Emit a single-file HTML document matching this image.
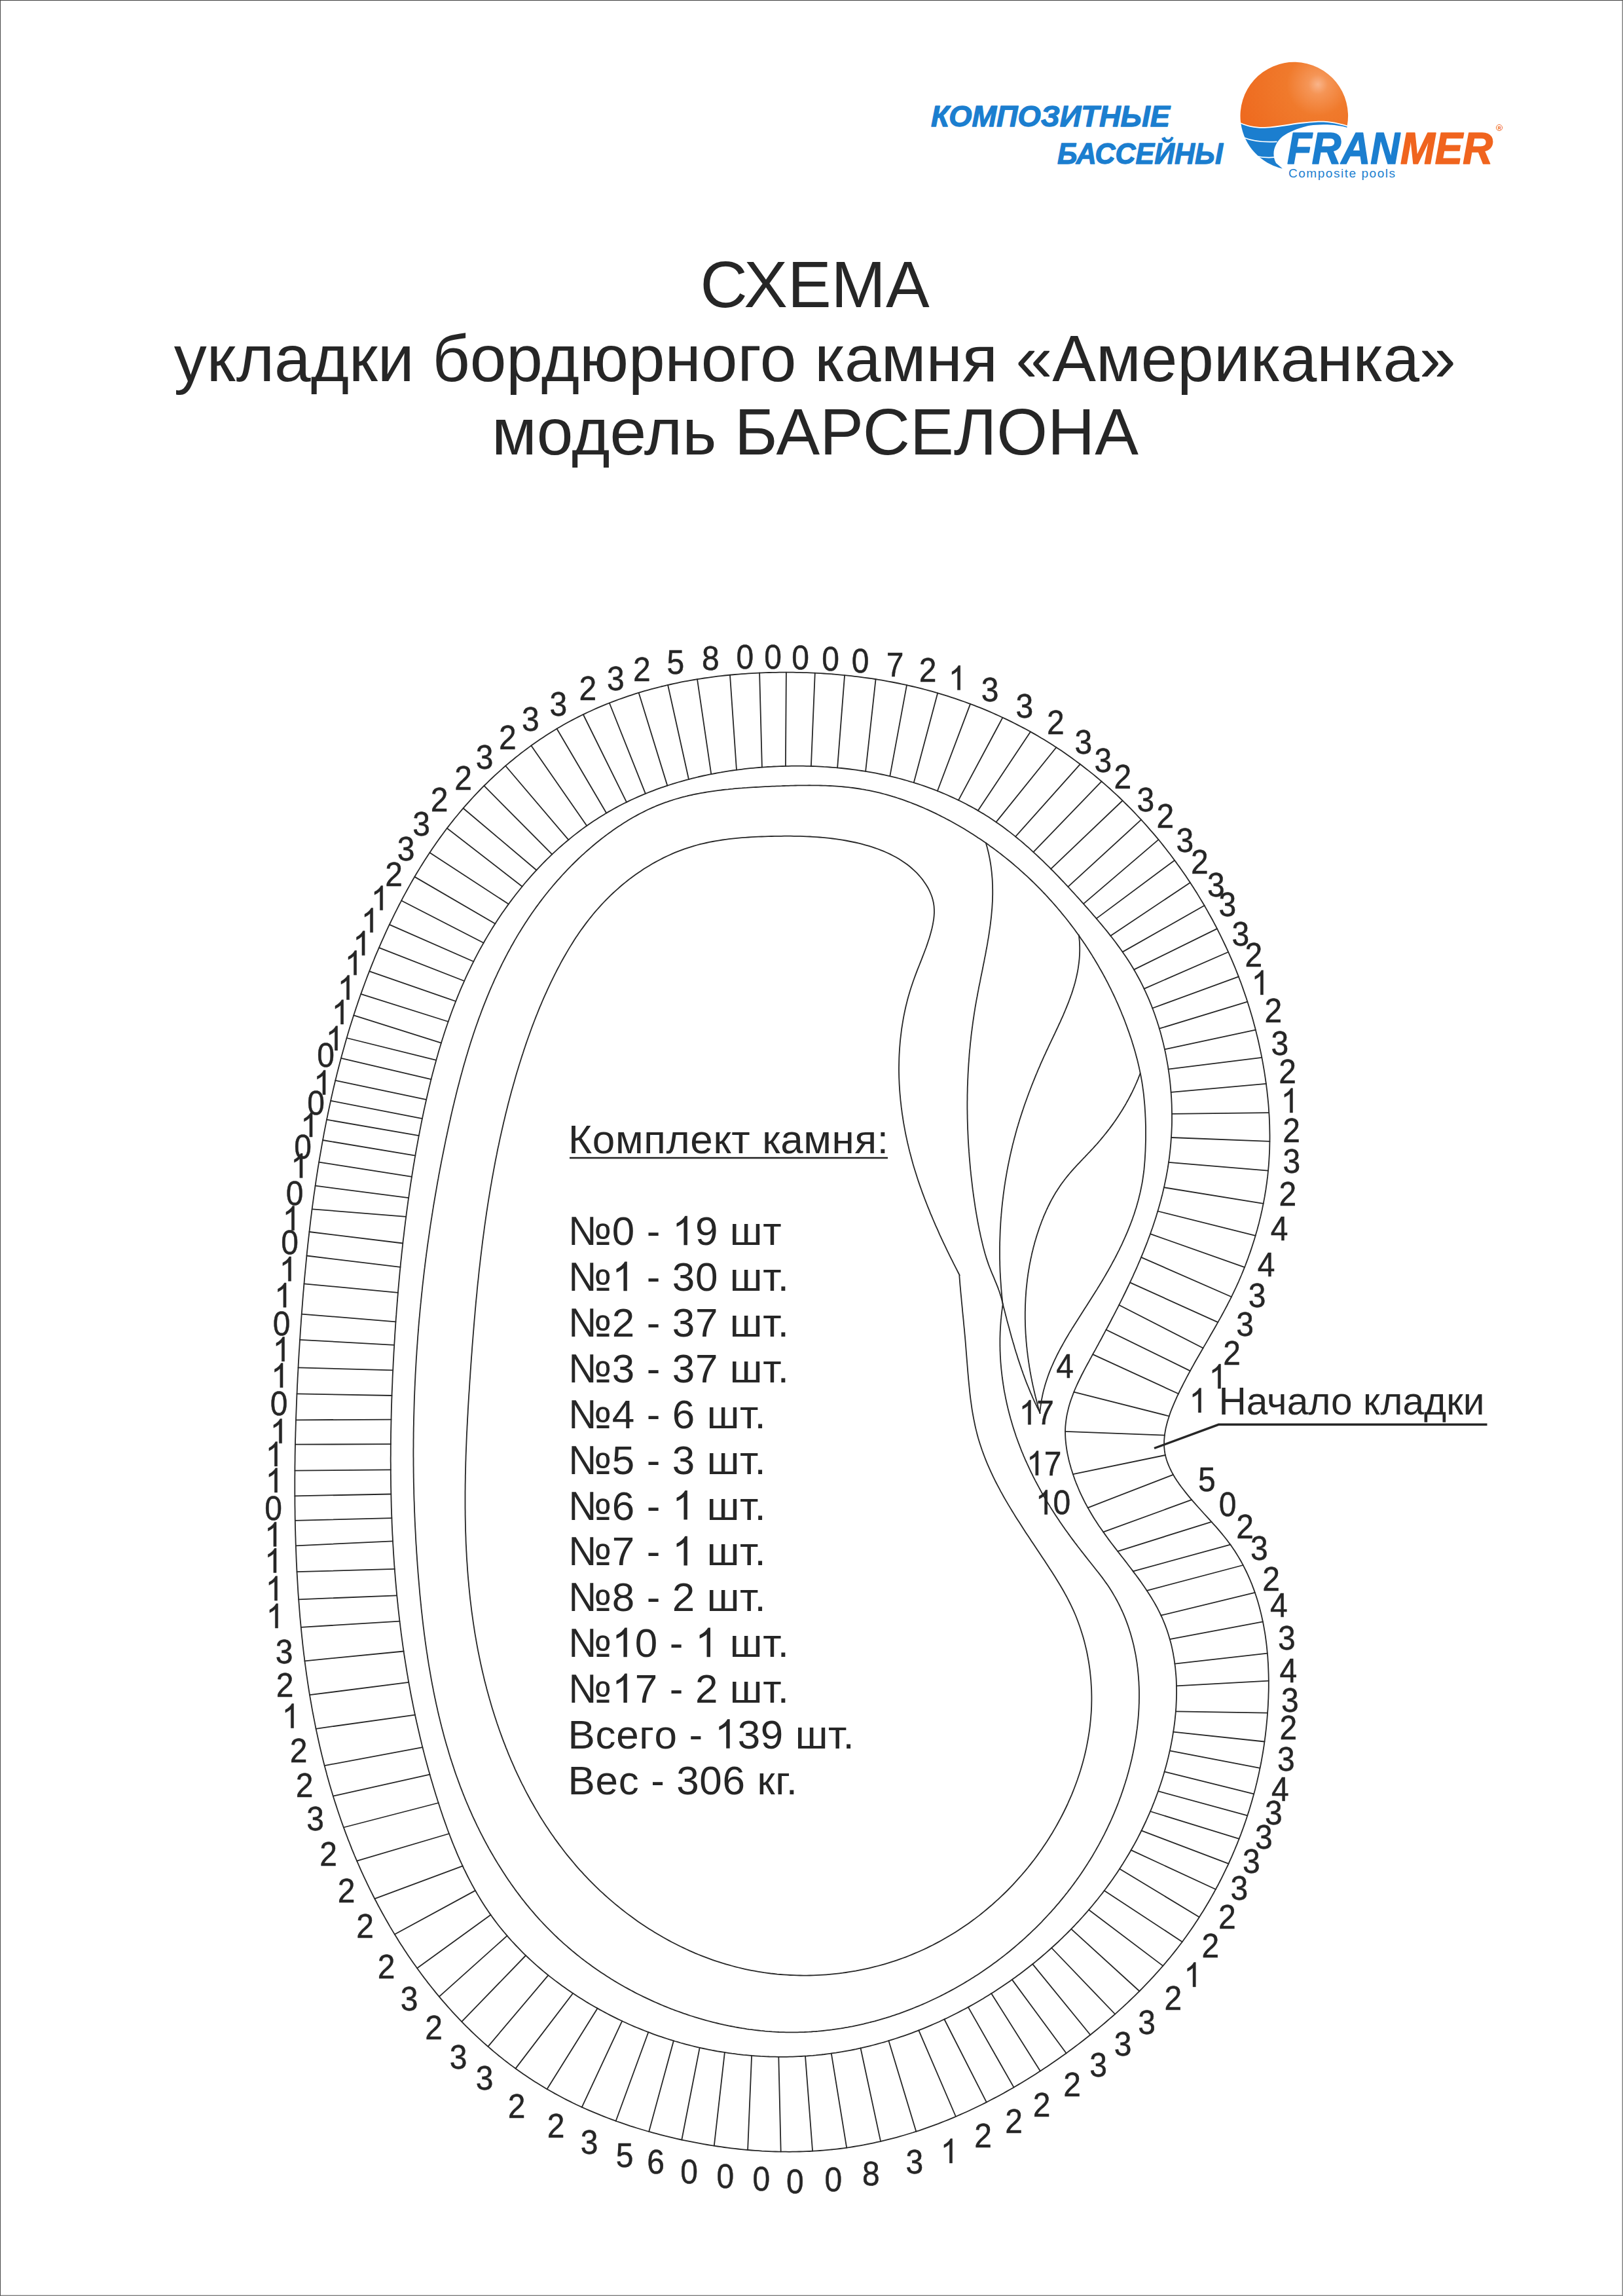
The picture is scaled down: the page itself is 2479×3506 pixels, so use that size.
<!DOCTYPE html>
<html lang="ru">
<head>
<meta charset="utf-8">
<title>Схема укладки бордюрного камня «Американка» — модель БАРСЕЛОНА</title>
<style>
html,body{margin:0;padding:0;background:#fff;}
body{width:2479px;height:3506px;overflow:hidden;font-family:"Liberation Sans",sans-serif;}
#page{position:relative;width:2479px;height:3506px;background:#fff;overflow:hidden;}
#page svg{position:absolute;left:0;top:0;}
#frame{position:absolute;left:0;top:0;width:2477px;height:3504px;border-top:1px solid #3f3f3f;border-left:1px solid #4a4a4a;border-right:1px solid #7d7d7d;border-bottom:1px solid #7d7d7d;box-shadow:inset -1px -1px 0 #cfcfcf;}
text{font-family:"Liberation Sans",sans-serif;}
</style>
</head>
<body>
<div id="page">
<svg width="2479" height="3506" viewBox="0 0 2479 3506">
<defs>
<radialGradient id="sun" gradientUnits="userSpaceOnUse" cx="2013" cy="129" r="125">
<stop offset="0" stop-color="#f9b48a"/>
<stop offset="0.12" stop-color="#f59556"/>
<stop offset="0.38" stop-color="#f07a2c"/>
<stop offset="1" stop-color="#ee6a1f"/>
</radialGradient>
</defs>

<!-- ======== logo ======== -->
<g id="logo">
<g font-weight="700" font-style="italic" fill="#1b7ecf" stroke="#1b7ecf" stroke-width="1.3" stroke-linejoin="round">
<text x="1422" y="193" font-size="44.5" textLength="365" lengthAdjust="spacingAndGlyphs">КОМПОЗИТНЫЕ</text>
<text x="1615" y="250" font-size="44.5" textLength="253" lengthAdjust="spacingAndGlyphs">БАССЕЙНЫ</text>
</g>
<path d="M1895.1 187.2 C1905 191.5 1918 194.5 1931.8 194 C1955 193 1970 188.5 1990.9 186.6 C2005 185 2015 184.5 2021.7 184.7 C2035 185.5 2047 188 2057.8 191.5 A82.3 82.3 0 1 0 1895.1 187.2 Z" fill="url(#sun)"/>
<path d="M1895.4 189 C1905 193.3 1918 196.3 1931.8 195.8 C1955 194.8 1970 190.3 1990.9 188.4 C2005 186.8 2015 186.3 2021.7 186.5 C2035 187.3 2047 189.8 2057.6 193.3 L2057.4 194.8 C2045 191.2 2032 190.2 2021.7 190.2 C2005 190.4 1996 192.2 1990.9 194 C1975 198.5 1964 204.5 1958.9 208.5 C1947.5 218 1941 234 1949 249 L1958.9 257.4 A82.3 82.3 0 0 1 1895.4 189 Z" fill="#1b7ecf"/>
<path d="M1899.5 210 C1913 215.5 1930 217.5 1950.5 216.3" fill="none" stroke="#fff" stroke-width="1.7"/>
<path d="M1917 238 C1927 240.5 1936 241.2 1946.5 240.2" fill="none" stroke="#fff" stroke-width="1.7"/>
<g font-weight="700" font-style="italic" font-size="69" stroke-width="1.6" stroke-linejoin="round">
<text x="1966" y="250" fill="#1b7ecf" stroke="#1b7ecf" textLength="172" lengthAdjust="spacingAndGlyphs">FRAN</text>
<text x="2139" y="250" fill="#f0641e" stroke="#f0641e" textLength="141" lengthAdjust="spacingAndGlyphs">MER</text>
</g>
<text x="1968" y="270.6" font-size="19" fill="#1b7ecf" textLength="163" lengthAdjust="spacing">Composite pools</text>
<circle cx="2290" cy="195" r="4.6" fill="none" stroke="#f0641e" stroke-width="0.9"/>
<text x="2287.7" y="197.6" font-size="7" font-weight="700" fill="#f0641e">R</text>
</g>

<!-- ======== title ======== -->
<g font-size="100" fill="#262626" text-anchor="middle">
<text x="1244.6" y="468.8">СХЕМА</text>
<text x="1244.8" y="581.6">укладки бордюрного камня «Американка»</text>
<text x="1245" y="693.8">модель БАРСЕЛОНА</text>
</g>

<!-- ======== diagram ======== -->
<g id="ring" fill="none" stroke="#262626" stroke-width="1.8" stroke-linejoin="round" stroke-linecap="round">
<path d="M1200.9 1026.7 L1206.2 1026.7 L1211.4 1026.7 L1216.6 1026.8 L1221.9 1026.9 L1227.1 1027.1 L1232.4 1027.2 L1237.6 1027.4 L1242.9 1027.6 L1248.1 1027.9 L1253.3 1028.2 L1258.6 1028.5 L1263.8 1028.9 L1269.0 1029.2 L1274.3 1029.6 L1279.5 1030.1 L1284.7 1030.6 L1289.9 1031.1 L1295.1 1031.6 L1300.3 1032.2 L1305.5 1032.8 L1310.7 1033.4 L1315.9 1034.1 L1321.1 1034.8 L1326.3 1035.5 L1331.5 1036.2 L1336.6 1037.0 L1341.8 1037.9 L1346.9 1038.7 L1352.1 1039.6 L1357.2 1040.6 L1362.3 1041.5 L1367.5 1042.5 L1372.6 1043.5 L1377.7 1044.6 L1382.8 1045.7 L1387.9 1046.8 L1393.0 1048.0 L1398.0 1049.2 L1403.1 1050.4 L1408.1 1051.7 L1413.2 1053.0 L1418.2 1054.4 L1423.2 1055.7 L1428.2 1057.2 L1433.2 1058.6 L1438.2 1060.1 L1443.2 1061.6 L1448.1 1063.2 L1453.1 1064.8 L1458.0 1066.4 L1463.0 1068.1 L1467.9 1069.8 L1472.8 1071.5 L1477.7 1073.3 L1482.5 1075.1 L1487.4 1076.9 L1492.2 1078.8 L1497.0 1080.7 L1501.9 1082.7 L1506.7 1084.7 L1511.4 1086.7 L1516.2 1088.8 L1520.9 1090.9 L1525.7 1093.0 L1530.4 1095.2 L1535.1 1097.4 L1539.8 1099.6 L1544.4 1101.9 L1549.1 1104.2 L1553.7 1106.6 L1558.3 1109.0 L1562.9 1111.4 L1567.5 1113.8 L1572.0 1116.3 L1576.6 1118.9 L1581.1 1121.4 L1585.6 1124.0 L1590.0 1126.7 L1594.5 1129.3 L1598.9 1132.0 L1603.3 1134.8 L1607.7 1137.6 L1612.1 1140.4 L1616.4 1143.2 L1620.8 1146.1 L1625.1 1149.0 L1629.3 1152.0 L1633.6 1155.0 L1637.8 1158.0 L1642.0 1161.1 L1646.2 1164.2 L1650.4 1167.3 L1654.5 1170.5 L1658.6 1173.7 L1662.7 1176.9 L1666.8 1180.1 L1670.9 1183.4 L1674.9 1186.8 L1678.9 1190.1 L1682.8 1193.5 L1686.8 1196.9 L1690.7 1200.4 L1694.6 1203.8 L1698.5 1207.3 L1702.3 1210.9 L1706.2 1214.4 L1710.0 1218.0 L1713.7 1221.7 L1717.5 1225.3 L1721.2 1229.0 L1724.9 1232.7 L1728.6 1236.4 L1732.2 1240.2 L1735.8 1244.0 L1739.4 1247.8 L1743.0 1251.6 L1746.5 1255.5 L1750.0 1259.4 L1753.5 1263.3 L1756.9 1267.3 L1760.3 1271.2 L1763.7 1275.2 L1767.1 1279.2 L1770.5 1283.3 L1773.8 1287.3 L1777.0 1291.4 L1780.3 1295.5 L1783.5 1299.7 L1786.7 1303.8 L1789.9 1308.0 L1793.0 1312.2 L1796.1 1316.4 L1799.2 1320.7 L1802.3 1324.9 L1805.3 1329.2 L1808.3 1333.5 L1811.3 1337.8 L1814.2 1342.2 L1817.1 1346.5 L1820.0 1350.9 L1822.8 1355.3 L1825.6 1359.7 L1828.4 1364.1 L1831.1 1368.6 L1833.8 1373.1 L1836.5 1377.5 L1839.2 1382.0 L1841.8 1386.6 L1844.4 1391.1 L1846.9 1395.7 L1849.5 1400.2 L1852.0 1404.8 L1854.4 1409.4 L1856.9 1414.0 L1859.3 1418.6 L1861.6 1423.3 L1863.9 1427.9 L1866.2 1432.6 L1868.5 1437.3 L1870.7 1442.0 L1872.9 1446.7 L1875.1 1451.4 L1877.2 1456.1 L1879.3 1460.9 L1881.4 1465.6 L1883.4 1470.4 L1885.4 1475.2 L1887.4 1480.0 L1889.3 1484.8 L1891.2 1489.7 L1893.0 1494.5 L1894.9 1499.3 L1896.7 1504.2 L1898.4 1509.1 L1900.1 1514.0 L1901.8 1518.9 L1903.5 1523.8 L1905.1 1528.7 L1906.7 1533.7 L1908.2 1538.6 L1909.7 1543.6 L1911.2 1548.5 L1912.7 1553.5 L1914.1 1558.5 L1915.4 1563.5 L1916.8 1568.5 L1918.1 1573.6 L1919.3 1578.6 L1920.6 1583.7 L1921.8 1588.7 L1922.9 1593.8 L1924.0 1598.9 L1925.1 1604.0 L1926.2 1609.1 L1927.2 1614.2 L1928.2 1619.3 L1929.1 1624.4 L1930.0 1629.6 L1930.9 1634.7 L1931.7 1639.9 L1932.5 1645.1 L1933.2 1650.2 L1934.0 1655.4 L1934.6 1660.6 L1935.3 1665.8 L1935.8 1671.0 L1936.4 1676.2 L1936.9 1681.4 L1937.4 1686.6 L1937.8 1691.8 L1938.1 1697.1 L1938.5 1702.3 L1938.8 1707.5 L1939.0 1712.7 L1939.2 1718.0 L1939.3 1723.2 L1939.4 1728.4 L1939.5 1733.6 L1939.5 1738.9 L1939.4 1744.1 L1939.3 1749.3 L1939.2 1754.5 L1939.0 1759.8 L1938.7 1765.0 L1938.4 1770.2 L1938.1 1775.4 L1937.7 1780.6 L1937.2 1785.8 L1936.7 1791.0 L1936.2 1796.2 L1935.5 1801.4 L1934.9 1806.5 L1934.1 1811.7 L1933.4 1816.9 L1932.5 1822.0 L1931.7 1827.2 L1930.7 1832.3 L1929.8 1837.4 L1928.7 1842.5 L1927.7 1847.6 L1926.5 1852.7 L1925.4 1857.8 L1924.1 1862.9 L1922.9 1867.9 L1921.5 1873.0 L1920.2 1878.0 L1918.7 1883.0 L1917.3 1888.0 L1915.8 1893.0 L1914.2 1898.0 L1912.6 1903.0 L1911.0 1907.9 L1909.3 1912.9 L1907.5 1917.8 L1905.8 1922.7 L1903.9 1927.6 L1902.1 1932.5 L1900.1 1937.3 L1898.2 1942.1 L1896.2 1947.0 L1894.1 1951.8 L1892.1 1956.5 L1889.9 1961.3 L1887.8 1966.0 L1885.6 1970.7 L1883.3 1975.4 L1881.0 1980.1 L1878.7 1984.8 L1876.3 1989.4 L1874.0 1994.0 L1871.5 1998.6 L1869.1 2003.2 L1866.6 2007.8 L1864.1 2012.4 L1861.5 2016.9 L1859.0 2021.4 L1856.4 2026.0 L1853.8 2030.5 L1851.2 2035.0 L1848.6 2039.5 L1846.0 2044.1 L1843.4 2048.6 L1840.8 2053.1 L1838.1 2057.6 L1835.5 2062.2 L1832.9 2066.7 L1830.3 2071.2 L1827.7 2075.8 L1825.1 2080.3 L1822.6 2084.9 L1820.0 2089.5 L1817.5 2094.1 L1815.0 2098.7 L1812.5 2103.4 L1810.1 2108.1 L1807.7 2112.7 L1805.3 2117.5 L1802.9 2122.2 L1800.6 2127.0 L1798.3 2131.7 L1796.1 2136.6 L1794.0 2141.4 L1791.9 2146.3 L1789.9 2151.1 L1788.0 2156.0 L1786.3 2160.9 L1784.7 2165.9 L1783.2 2170.8 L1781.9 2175.7 L1780.7 2180.6 L1779.8 2185.5 L1779.0 2190.4 L1778.5 2195.3 L1778.1 2200.2 L1778.1 2205.1 L1778.2 2209.9 L1778.7 2214.7 L1779.4 2219.5 L1780.5 2224.3 L1781.8 2229.0 L1783.4 2233.7 L1785.3 2238.4 L1787.4 2243.0 L1789.7 2247.6 L1792.2 2252.2 L1794.9 2256.7 L1797.8 2261.2 L1800.8 2265.6 L1804.0 2270.0 L1807.3 2274.3 L1810.7 2278.6 L1814.1 2282.9 L1817.6 2287.1 L1821.2 2291.3 L1824.8 2295.4 L1828.4 2299.5 L1832.0 2303.5 L1835.6 2307.5 L1839.2 2311.5 L1842.8 2315.4 L1846.4 2319.4 L1850.0 2323.3 L1853.6 2327.3 L1857.1 2331.2 L1860.5 2335.2 L1863.9 2339.2 L1867.3 2343.2 L1870.6 2347.3 L1873.8 2351.3 L1876.9 2355.5 L1880.0 2359.6 L1883.0 2363.9 L1885.8 2368.1 L1888.6 2372.5 L1891.3 2376.9 L1893.9 2381.3 L1896.5 2385.8 L1898.9 2390.3 L1901.2 2394.8 L1903.5 2399.5 L1905.7 2404.1 L1907.8 2408.8 L1909.8 2413.5 L1911.8 2418.3 L1913.6 2423.1 L1915.4 2427.9 L1917.1 2432.8 L1918.8 2437.7 L1920.3 2442.6 L1921.8 2447.6 L1923.2 2452.5 L1924.5 2457.5 L1925.8 2462.6 L1927.0 2467.6 L1928.1 2472.7 L1929.2 2477.8 L1930.2 2482.9 L1931.1 2488.1 L1932.0 2493.2 L1932.8 2498.4 L1933.5 2503.6 L1934.2 2508.8 L1934.8 2514.0 L1935.3 2519.2 L1935.8 2524.5 L1936.3 2529.7 L1936.6 2535.0 L1937.0 2540.3 L1937.2 2545.5 L1937.4 2550.8 L1937.6 2556.1 L1937.7 2561.4 L1937.8 2566.6 L1937.8 2571.9 L1937.8 2577.2 L1937.7 2582.5 L1937.5 2587.7 L1937.4 2593.0 L1937.1 2598.3 L1936.9 2603.5 L1936.6 2608.8 L1936.2 2614.0 L1935.8 2619.2 L1935.4 2624.5 L1934.9 2629.7 L1934.4 2634.8 L1933.9 2640.0 L1933.3 2645.2 L1932.7 2650.4 L1932.0 2655.5 L1931.3 2660.6 L1930.6 2665.8 L1929.8 2670.9 L1929.0 2676.0 L1928.1 2681.1 L1927.2 2686.2 L1926.3 2691.3 L1925.3 2696.3 L1924.2 2701.4 L1923.2 2706.4 L1922.1 2711.5 L1920.9 2716.5 L1919.8 2721.5 L1918.5 2726.6 L1917.3 2731.6 L1916.0 2736.6 L1914.6 2741.5 L1913.2 2746.5 L1911.8 2751.5 L1910.3 2756.5 L1908.8 2761.4 L1907.3 2766.4 L1905.7 2771.3 L1904.1 2776.2 L1902.4 2781.2 L1900.7 2786.1 L1899.0 2791.0 L1897.2 2795.9 L1895.4 2800.8 L1893.5 2805.6 L1891.6 2810.5 L1889.7 2815.4 L1887.7 2820.2 L1885.7 2825.0 L1883.6 2829.8 L1881.6 2834.6 L1879.4 2839.4 L1877.3 2844.2 L1875.1 2849.0 L1872.8 2853.7 L1870.5 2858.4 L1868.2 2863.1 L1865.9 2867.8 L1863.5 2872.5 L1861.1 2877.2 L1858.6 2881.8 L1856.1 2886.4 L1853.6 2891.0 L1851.0 2895.6 L1848.4 2900.2 L1845.8 2904.7 L1843.1 2909.2 L1840.4 2913.7 L1837.7 2918.2 L1834.9 2922.6 L1832.1 2927.0 L1829.3 2931.4 L1826.4 2935.8 L1823.5 2940.2 L1820.6 2944.5 L1817.6 2948.8 L1814.6 2953.0 L1811.6 2957.3 L1808.5 2961.5 L1805.4 2965.7 L1802.3 2969.8 L1799.1 2974.0 L1795.9 2978.1 L1792.7 2982.1 L1789.4 2986.2 L1786.2 2990.2 L1782.8 2994.2 L1779.5 2998.2 L1776.1 3002.1 L1772.7 3006.0 L1769.3 3009.9 L1765.8 3013.7 L1762.3 3017.6 L1758.8 3021.4 L1755.3 3025.2 L1751.7 3028.9 L1748.1 3032.6 L1744.5 3036.3 L1740.9 3040.0 L1737.2 3043.7 L1733.5 3047.3 L1729.8 3050.9 L1726.0 3054.5 L1722.3 3058.1 L1718.5 3061.6 L1714.7 3065.2 L1710.8 3068.7 L1707.0 3072.1 L1703.1 3075.6 L1699.2 3079.0 L1695.2 3082.4 L1691.3 3085.8 L1687.3 3089.2 L1683.3 3092.6 L1679.3 3095.9 L1675.3 3099.2 L1671.2 3102.5 L1667.2 3105.8 L1663.1 3109.0 L1659.0 3112.3 L1654.9 3115.5 L1650.7 3118.7 L1646.6 3121.9 L1642.4 3125.0 L1638.2 3128.2 L1634.0 3131.3 L1629.8 3134.4 L1625.5 3137.4 L1621.2 3140.5 L1617.0 3143.5 L1612.7 3146.5 L1608.3 3149.5 L1604.0 3152.5 L1599.7 3155.4 L1595.3 3158.3 L1590.9 3161.2 L1586.5 3164.1 L1582.1 3166.9 L1577.7 3169.7 L1573.2 3172.5 L1568.8 3175.3 L1564.3 3178.0 L1559.8 3180.8 L1555.3 3183.4 L1550.8 3186.1 L1546.3 3188.7 L1541.7 3191.3 L1537.1 3193.9 L1532.6 3196.5 L1528.0 3199.0 L1523.4 3201.5 L1518.7 3203.9 L1514.1 3206.3 L1509.4 3208.7 L1504.8 3211.1 L1500.1 3213.5 L1495.4 3215.8 L1490.7 3218.0 L1486.0 3220.3 L1481.3 3222.5 L1476.5 3224.7 L1471.8 3226.8 L1467.0 3228.9 L1462.2 3231.0 L1457.4 3233.1 L1452.6 3235.1 L1447.8 3237.1 L1443.0 3239.0 L1438.1 3240.9 L1433.3 3242.8 L1428.4 3244.6 L1423.6 3246.4 L1418.7 3248.2 L1413.8 3249.9 L1408.9 3251.6 L1404.0 3253.3 L1399.0 3254.9 L1394.1 3256.5 L1389.1 3258.0 L1384.2 3259.5 L1379.2 3261.0 L1374.2 3262.4 L1369.3 3263.8 L1364.3 3265.1 L1359.2 3266.4 L1354.2 3267.7 L1349.2 3268.9 L1344.2 3270.1 L1339.1 3271.2 L1334.1 3272.3 L1329.0 3273.4 L1323.9 3274.4 L1318.9 3275.4 L1313.8 3276.3 L1308.7 3277.2 L1303.6 3278.0 L1298.5 3278.8 L1293.4 3279.6 L1288.2 3280.3 L1283.1 3281.0 L1278.0 3281.6 L1272.8 3282.2 L1267.7 3282.7 L1262.5 3283.2 L1257.3 3283.6 L1252.2 3284.0 L1247.0 3284.4 L1241.8 3284.7 L1236.6 3285.0 L1231.4 3285.2 L1226.2 3285.4 L1221.1 3285.5 L1215.9 3285.7 L1210.6 3285.7 L1205.4 3285.8 L1200.2 3285.7 L1195.0 3285.7 L1189.8 3285.6 L1184.6 3285.5 L1179.4 3285.3 L1174.1 3285.1 L1168.9 3284.8 L1163.7 3284.6 L1158.5 3284.2 L1153.3 3283.9 L1148.0 3283.5 L1142.8 3283.0 L1137.6 3282.6 L1132.4 3282.1 L1127.2 3281.5 L1121.9 3280.9 L1116.7 3280.3 L1111.5 3279.7 L1106.3 3279.0 L1101.1 3278.2 L1095.9 3277.5 L1090.7 3276.7 L1085.5 3275.9 L1080.3 3275.0 L1075.1 3274.1 L1069.9 3273.2 L1064.7 3272.2 L1059.5 3271.2 L1054.4 3270.2 L1049.2 3269.2 L1044.0 3268.1 L1038.9 3267.0 L1033.7 3265.8 L1028.6 3264.6 L1023.4 3263.4 L1018.3 3262.2 L1013.2 3260.9 L1008.1 3259.6 L1003.0 3258.2 L997.9 3256.8 L992.8 3255.4 L987.7 3254.0 L982.7 3252.5 L977.6 3251.0 L972.6 3249.5 L967.6 3247.9 L962.5 3246.3 L957.6 3244.6 L952.6 3242.9 L947.6 3241.2 L942.6 3239.5 L937.7 3237.7 L932.8 3235.9 L927.9 3234.0 L923.0 3232.1 L918.1 3230.2 L913.3 3228.2 L908.4 3226.2 L903.6 3224.2 L898.8 3222.1 L894.0 3220.0 L889.3 3217.9 L884.6 3215.7 L879.8 3213.5 L875.1 3211.2 L870.5 3208.9 L865.8 3206.6 L861.2 3204.2 L856.6 3201.8 L852.0 3199.3 L847.5 3196.9 L843.0 3194.3 L838.5 3191.8 L834.0 3189.2 L829.6 3186.5 L825.1 3183.8 L820.7 3181.1 L816.4 3178.4 L812.0 3175.6 L807.7 3172.7 L803.4 3169.8 L799.2 3166.9 L795.0 3164.0 L790.7 3161.0 L786.6 3158.0 L782.4 3154.9 L778.3 3151.9 L774.2 3148.7 L770.1 3145.6 L766.1 3142.4 L762.1 3139.2 L758.1 3135.9 L754.1 3132.6 L750.2 3129.3 L746.3 3125.9 L742.4 3122.5 L738.5 3119.1 L734.7 3115.6 L730.9 3112.2 L727.1 3108.6 L723.4 3105.1 L719.6 3101.5 L716.0 3097.9 L712.3 3094.3 L708.6 3090.6 L705.0 3086.9 L701.4 3083.2 L697.9 3079.4 L694.3 3075.6 L690.8 3071.8 L687.4 3068.0 L683.9 3064.1 L680.5 3060.2 L677.1 3056.3 L673.7 3052.3 L670.4 3048.4 L667.0 3044.4 L663.8 3040.4 L660.5 3036.3 L657.3 3032.2 L654.0 3028.1 L650.9 3024.0 L647.7 3019.9 L644.6 3015.7 L641.5 3011.5 L638.4 3007.3 L635.4 3003.1 L632.3 2998.8 L629.3 2994.5 L626.4 2990.2 L623.4 2985.9 L620.5 2981.6 L617.6 2977.2 L614.8 2972.8 L611.9 2968.4 L609.1 2964.0 L606.4 2959.5 L603.6 2955.1 L600.9 2950.6 L598.2 2946.1 L595.5 2941.6 L592.9 2937.0 L590.3 2932.5 L587.7 2927.9 L585.1 2923.3 L582.6 2918.7 L580.1 2914.1 L577.6 2909.5 L575.2 2904.8 L572.7 2900.2 L570.3 2895.5 L568.0 2890.8 L565.6 2886.1 L563.3 2881.4 L561.0 2876.6 L558.8 2871.9 L556.5 2867.1 L554.3 2862.4 L552.1 2857.6 L550.0 2852.8 L547.9 2848.0 L545.8 2843.2 L543.7 2838.3 L541.6 2833.5 L539.6 2828.6 L537.6 2823.8 L535.7 2818.9 L533.8 2814.0 L531.8 2809.1 L530.0 2804.2 L528.1 2799.3 L526.3 2794.4 L524.5 2789.5 L522.7 2784.6 L521.0 2779.7 L519.3 2774.7 L517.6 2769.8 L515.9 2764.8 L514.3 2759.8 L512.7 2754.9 L511.1 2749.9 L509.5 2744.9 L508.0 2739.9 L506.5 2734.9 L505.0 2729.9 L503.5 2724.9 L502.1 2719.9 L500.7 2714.9 L499.3 2709.9 L498.0 2704.8 L496.6 2699.8 L495.3 2694.8 L494.0 2689.7 L492.8 2684.7 L491.5 2679.6 L490.3 2674.5 L489.1 2669.5 L487.9 2664.4 L486.8 2659.3 L485.7 2654.2 L484.6 2649.1 L483.5 2644.1 L482.4 2639.0 L481.4 2633.9 L480.4 2628.7 L479.4 2623.6 L478.4 2618.5 L477.4 2613.4 L476.5 2608.3 L475.6 2603.2 L474.7 2598.0 L473.8 2592.9 L472.9 2587.7 L472.1 2582.6 L471.3 2577.5 L470.5 2572.3 L469.7 2567.2 L469.0 2562.0 L468.2 2556.9 L467.5 2551.7 L466.8 2546.5 L466.1 2541.4 L465.4 2536.2 L464.8 2531.0 L464.1 2525.8 L463.5 2520.7 L462.9 2515.5 L462.3 2510.3 L461.8 2505.1 L461.2 2499.9 L460.7 2494.8 L460.2 2489.6 L459.7 2484.4 L459.2 2479.2 L458.7 2474.0 L458.2 2468.8 L457.8 2463.6 L457.4 2458.4 L457.0 2453.2 L456.6 2448.0 L456.2 2442.8 L455.8 2437.6 L455.4 2432.4 L455.1 2427.2 L454.8 2422.0 L454.5 2416.8 L454.2 2411.6 L453.9 2406.4 L453.6 2401.2 L453.3 2396.0 L453.1 2390.8 L452.8 2385.6 L452.6 2380.4 L452.4 2375.2 L452.2 2370.0 L452.0 2364.8 L451.8 2359.5 L451.6 2354.3 L451.5 2349.1 L451.3 2343.9 L451.2 2338.7 L451.0 2333.5 L450.9 2328.3 L450.8 2323.1 L450.7 2317.9 L450.6 2312.8 L450.6 2307.6 L450.5 2302.4 L450.4 2297.2 L450.4 2292.0 L450.4 2286.8 L450.3 2281.6 L450.3 2276.4 L450.3 2271.2 L450.3 2266.0 L450.3 2260.8 L450.3 2255.6 L450.4 2250.4 L450.4 2245.2 L450.4 2240.0 L450.5 2234.8 L450.6 2229.6 L450.6 2224.4 L450.7 2219.2 L450.8 2214.0 L450.9 2208.8 L451.0 2203.6 L451.1 2198.4 L451.3 2193.3 L451.4 2188.1 L451.6 2182.9 L451.7 2177.7 L451.9 2172.5 L452.0 2167.3 L452.2 2162.1 L452.4 2156.9 L452.6 2151.7 L452.8 2146.5 L453.0 2141.3 L453.2 2136.1 L453.4 2130.9 L453.7 2125.7 L453.9 2120.5 L454.1 2115.3 L454.4 2110.1 L454.6 2104.9 L454.9 2099.7 L455.2 2094.5 L455.5 2089.2 L455.7 2084.0 L456.0 2078.8 L456.3 2073.6 L456.6 2068.4 L456.9 2063.2 L457.3 2058.0 L457.6 2052.8 L457.9 2047.6 L458.3 2042.4 L458.6 2037.1 L458.9 2031.9 L459.3 2026.7 L459.7 2021.5 L460.0 2016.3 L460.4 2011.0 L460.8 2005.8 L461.2 2000.6 L461.6 1995.4 L462.0 1990.2 L462.4 1984.9 L462.8 1979.7 L463.2 1974.5 L463.7 1969.3 L464.1 1964.1 L464.6 1958.8 L465.0 1953.6 L465.5 1948.4 L466.0 1943.2 L466.5 1938.0 L467.0 1932.8 L467.5 1927.5 L468.0 1922.3 L468.5 1917.1 L469.0 1911.9 L469.6 1906.7 L470.1 1901.5 L470.7 1896.3 L471.3 1891.0 L471.9 1885.8 L472.5 1880.6 L473.1 1875.4 L473.7 1870.2 L474.3 1865.0 L474.9 1859.8 L475.6 1854.6 L476.2 1849.4 L476.9 1844.2 L477.6 1839.0 L478.3 1833.9 L479.0 1828.7 L479.7 1823.5 L480.5 1818.3 L481.2 1813.1 L482.0 1807.9 L482.7 1802.8 L483.5 1797.6 L484.3 1792.4 L485.1 1787.3 L485.9 1782.1 L486.8 1776.9 L487.6 1771.8 L488.5 1766.6 L489.4 1761.5 L490.3 1756.3 L491.2 1751.2 L492.1 1746.0 L493.0 1740.9 L494.0 1735.8 L494.9 1730.7 L495.9 1725.5 L496.9 1720.4 L497.9 1715.3 L498.9 1710.2 L500.0 1705.1 L501.0 1700.0 L502.1 1694.9 L503.2 1689.8 L504.3 1684.7 L505.4 1679.6 L506.5 1674.5 L507.7 1669.4 L508.8 1664.4 L510.0 1659.3 L511.2 1654.2 L512.4 1649.2 L513.7 1644.1 L514.9 1639.1 L516.2 1634.1 L517.5 1629.0 L518.8 1624.0 L520.1 1619.0 L521.4 1614.0 L522.8 1608.9 L524.2 1603.9 L525.6 1598.9 L527.0 1593.9 L528.4 1589.0 L529.9 1584.0 L531.3 1579.0 L532.8 1574.0 L534.3 1569.1 L535.9 1564.1 L537.4 1559.2 L539.0 1554.2 L540.6 1549.3 L542.2 1544.4 L543.8 1539.4 L545.5 1534.5 L547.1 1529.6 L548.8 1524.7 L550.5 1519.8 L552.3 1514.9 L554.0 1510.1 L555.8 1505.2 L557.6 1500.3 L559.4 1495.5 L561.2 1490.6 L563.1 1485.8 L565.0 1481.0 L566.9 1476.1 L568.8 1471.3 L570.8 1466.5 L572.7 1461.7 L574.7 1456.9 L576.8 1452.1 L578.8 1447.4 L580.9 1442.6 L582.9 1437.8 L585.1 1433.1 L587.2 1428.4 L589.3 1423.6 L591.5 1418.9 L593.7 1414.2 L596.0 1409.5 L598.2 1404.8 L600.5 1400.1 L602.8 1395.4 L605.1 1390.8 L607.5 1386.1 L609.8 1381.5 L612.3 1376.9 L614.7 1372.2 L617.1 1367.6 L619.6 1363.1 L622.1 1358.5 L624.7 1353.9 L627.2 1349.4 L629.8 1344.8 L632.5 1340.3 L635.1 1335.8 L637.8 1331.3 L640.5 1326.9 L643.2 1322.4 L646.0 1318.0 L648.8 1313.6 L651.6 1309.2 L654.5 1304.8 L657.4 1300.4 L660.3 1296.1 L663.3 1291.8 L666.2 1287.5 L669.2 1283.2 L672.3 1278.9 L675.4 1274.7 L678.5 1270.5 L681.6 1266.3 L684.8 1262.1 L688.0 1258.0 L691.3 1253.9 L694.5 1249.8 L697.9 1245.7 L701.2 1241.7 L704.6 1237.7 L708.0 1233.7 L711.5 1229.7 L714.9 1225.8 L718.5 1221.8 L722.0 1218.0 L725.6 1214.1 L729.2 1210.3 L732.9 1206.5 L736.6 1202.7 L740.3 1199.0 L744.1 1195.3 L747.8 1191.6 L751.7 1188.0 L755.5 1184.4 L759.4 1180.8 L763.3 1177.3 L767.2 1173.8 L771.2 1170.3 L775.2 1166.9 L779.2 1163.5 L783.3 1160.2 L787.4 1156.8 L791.5 1153.6 L795.6 1150.3 L799.8 1147.1 L804.0 1144.0 L808.2 1140.9 L812.4 1137.8 L816.7 1134.7 L821.0 1131.8 L825.3 1128.8 L829.7 1125.9 L834.0 1123.0 L838.4 1120.2 L842.8 1117.5 L847.3 1114.7 L851.7 1112.1 L856.2 1109.4 L860.7 1106.8 L865.2 1104.3 L869.8 1101.8 L874.3 1099.4 L878.9 1097.0 L883.5 1094.6 L888.2 1092.3 L892.8 1090.1 L897.5 1087.8 L902.2 1085.7 L906.9 1083.5 L911.6 1081.4 L916.3 1079.4 L921.1 1077.4 L925.9 1075.4 L930.7 1073.5 L935.5 1071.7 L940.3 1069.8 L945.1 1068.0 L950.0 1066.3 L954.9 1064.6 L959.8 1062.9 L964.7 1061.3 L969.6 1059.7 L974.5 1058.2 L979.5 1056.7 L984.4 1055.2 L989.4 1053.8 L994.4 1052.4 L999.4 1051.1 L1004.4 1049.8 L1009.4 1048.5 L1014.5 1047.3 L1019.5 1046.1 L1024.6 1045.0 L1029.6 1043.9 L1034.7 1042.8 L1039.8 1041.7 L1044.9 1040.7 L1050.0 1039.8 L1055.1 1038.9 L1060.3 1038.0 L1065.4 1037.1 L1070.5 1036.3 L1075.7 1035.5 L1080.9 1034.8 L1086.0 1034.1 L1091.2 1033.4 L1096.4 1032.7 L1101.6 1032.1 L1106.8 1031.5 L1112.0 1031.0 L1117.2 1030.5 L1122.4 1030.0 L1127.6 1029.6 L1132.8 1029.2 L1138.0 1028.8 L1143.3 1028.4 L1148.5 1028.1 L1153.7 1027.8 L1158.9 1027.6 L1164.2 1027.4 L1169.4 1027.2 L1174.7 1027.0 L1179.9 1026.9 L1185.2 1026.8 L1190.4 1026.7 L1195.7 1026.7 Z"/>
<path d="M1199.9 1169.9 L1204.4 1169.8 L1208.9 1169.7 L1213.4 1169.7 L1218.0 1169.6 L1222.5 1169.7 L1227.0 1169.7 L1231.5 1169.8 L1236.0 1169.9 L1240.5 1170.0 L1245.0 1170.2 L1249.4 1170.4 L1253.9 1170.6 L1258.4 1170.9 L1262.9 1171.1 L1267.4 1171.5 L1271.8 1171.8 L1276.3 1172.2 L1280.8 1172.6 L1285.2 1173.0 L1289.7 1173.5 L1294.1 1174.0 L1298.5 1174.5 L1303.0 1175.1 L1307.4 1175.7 L1311.8 1176.3 L1316.2 1177.0 L1320.6 1177.7 L1325.0 1178.4 L1329.4 1179.1 L1333.7 1179.9 L1338.1 1180.7 L1342.4 1181.6 L1346.8 1182.5 L1351.1 1183.4 L1355.4 1184.4 L1359.8 1185.4 L1364.1 1186.4 L1368.4 1187.4 L1372.6 1188.5 L1376.9 1189.7 L1381.2 1190.8 L1385.4 1192.0 L1389.6 1193.3 L1393.9 1194.5 L1398.1 1195.8 L1402.3 1197.2 L1406.4 1198.5 L1410.6 1199.9 L1414.8 1201.4 L1418.9 1202.9 L1423.0 1204.4 L1427.1 1205.9 L1431.2 1207.5 L1435.3 1209.2 L1439.4 1210.8 L1443.4 1212.5 L1447.4 1214.3 L1451.4 1216.1 L1455.4 1217.9 L1459.4 1219.7 L1463.4 1221.6 L1467.3 1223.5 L1471.2 1225.5 L1475.2 1227.5 L1479.0 1229.6 L1482.9 1231.6 L1486.8 1233.8 L1490.6 1235.9 L1494.4 1238.1 L1498.2 1240.4 L1502.0 1242.6 L1505.7 1245.0 L1509.5 1247.3 L1513.2 1249.7 L1516.9 1252.2 L1520.5 1254.7 L1524.2 1257.2 L1527.8 1259.7 L1531.4 1262.3 L1535.0 1265.0 L1538.5 1267.7 L1542.1 1270.4 L1545.6 1273.1 L1549.1 1275.9 L1552.6 1278.7 L1556.0 1281.6 L1559.5 1284.4 L1562.9 1287.3 L1566.3 1290.3 L1569.7 1293.2 L1573.0 1296.2 L1576.4 1299.3 L1579.7 1302.3 L1583.0 1305.4 L1586.3 1308.5 L1589.6 1311.6 L1592.9 1314.7 L1596.1 1317.9 L1599.4 1321.1 L1602.6 1324.2 L1605.8 1327.5 L1609.0 1330.7 L1612.1 1333.9 L1615.3 1337.2 L1618.5 1340.5 L1621.6 1343.8 L1624.7 1347.0 L1627.8 1350.4 L1630.9 1353.7 L1634.0 1357.0 L1637.0 1360.3 L1640.1 1363.7 L1643.1 1367.0 L1646.2 1370.4 L1649.2 1373.7 L1652.2 1377.1 L1655.2 1380.4 L1658.2 1383.8 L1661.2 1387.2 L1664.1 1390.5 L1667.1 1393.9 L1670.0 1397.3 L1673.0 1400.7 L1675.9 1404.1 L1678.7 1407.5 L1681.6 1410.9 L1684.5 1414.3 L1687.3 1417.7 L1690.1 1421.1 L1692.9 1424.6 L1695.6 1428.1 L1698.3 1431.5 L1701.0 1435.0 L1703.7 1438.5 L1706.3 1442.1 L1708.9 1445.6 L1711.5 1449.2 L1714.0 1452.8 L1716.5 1456.4 L1719.0 1460.0 L1721.5 1463.7 L1723.8 1467.3 L1726.2 1471.0 L1728.5 1474.8 L1730.8 1478.5 L1733.0 1482.3 L1735.2 1486.1 L1737.3 1490.0 L1739.4 1493.8 L1741.5 1497.7 L1743.5 1501.7 L1745.5 1505.6 L1747.4 1509.6 L1749.3 1513.6 L1751.1 1517.6 L1752.9 1521.6 L1754.7 1525.7 L1756.4 1529.8 L1758.1 1533.9 L1759.7 1538.0 L1761.3 1542.2 L1762.8 1546.3 L1764.3 1550.5 L1765.7 1554.7 L1767.2 1559.0 L1768.5 1563.2 L1769.9 1567.5 L1771.1 1571.8 L1772.4 1576.0 L1773.6 1580.4 L1774.7 1584.7 L1775.8 1589.0 L1776.9 1593.4 L1777.9 1597.7 L1778.9 1602.1 L1779.9 1606.5 L1780.8 1610.9 L1781.6 1615.3 L1782.4 1619.7 L1783.2 1624.1 L1784.0 1628.6 L1784.6 1633.0 L1785.3 1637.5 L1785.9 1641.9 L1786.5 1646.4 L1787.0 1650.9 L1787.5 1655.3 L1787.9 1659.8 L1788.3 1664.3 L1788.7 1668.8 L1789.0 1673.3 L1789.3 1677.8 L1789.5 1682.3 L1789.7 1686.8 L1789.8 1691.3 L1789.9 1695.8 L1790.0 1700.3 L1790.0 1704.8 L1790.0 1709.3 L1790.0 1713.8 L1789.9 1718.3 L1789.7 1722.7 L1789.5 1727.2 L1789.3 1731.7 L1789.0 1736.2 L1788.7 1740.6 L1788.4 1745.1 L1788.0 1749.6 L1787.6 1754.0 L1787.1 1758.5 L1786.6 1762.9 L1786.1 1767.3 L1785.5 1771.7 L1784.8 1776.1 L1784.2 1780.5 L1783.5 1784.9 L1782.7 1789.3 L1781.9 1793.6 L1781.1 1798.0 L1780.2 1802.3 L1779.3 1806.6 L1778.4 1811.0 L1777.4 1815.3 L1776.4 1819.6 L1775.4 1823.9 L1774.3 1828.1 L1773.2 1832.4 L1772.0 1836.7 L1770.8 1840.9 L1769.6 1845.2 L1768.4 1849.4 L1767.1 1853.6 L1765.8 1857.9 L1764.5 1862.1 L1763.1 1866.3 L1761.7 1870.5 L1760.3 1874.7 L1758.8 1878.8 L1757.4 1883.0 L1755.9 1887.2 L1754.3 1891.3 L1752.8 1895.5 L1751.2 1899.6 L1749.6 1903.7 L1747.9 1907.9 L1746.3 1912.0 L1744.6 1916.1 L1742.9 1920.2 L1741.2 1924.3 L1739.4 1928.4 L1737.7 1932.5 L1735.9 1936.6 L1734.1 1940.6 L1732.2 1944.7 L1730.4 1948.8 L1728.5 1952.8 L1726.6 1956.9 L1724.8 1960.9 L1722.8 1965.0 L1720.9 1969.0 L1719.0 1973.0 L1717.0 1977.0 L1715.0 1981.1 L1713.0 1985.1 L1711.0 1989.1 L1709.0 1993.1 L1707.0 1997.1 L1704.9 2001.1 L1702.9 2005.1 L1700.8 2009.1 L1698.7 2013.0 L1696.7 2017.0 L1694.6 2021.0 L1692.5 2025.0 L1690.4 2028.9 L1688.2 2032.9 L1686.1 2036.9 L1684.0 2040.8 L1681.9 2044.8 L1679.7 2048.7 L1677.6 2052.7 L1675.4 2056.6 L1673.3 2060.6 L1671.1 2064.5 L1668.9 2068.4 L1666.8 2072.4 L1664.6 2076.3 L1662.5 2080.3 L1660.3 2084.2 L1658.2 2088.1 L1656.1 2092.1 L1654.1 2096.0 L1652.0 2100.0 L1650.1 2104.0 L1648.1 2108.0 L1646.2 2112.0 L1644.4 2116.0 L1642.6 2120.0 L1640.9 2124.0 L1639.3 2128.1 L1637.8 2132.2 L1636.3 2136.3 L1634.9 2140.4 L1633.6 2144.5 L1632.4 2148.7 L1631.4 2152.9 L1630.4 2157.1 L1629.5 2161.4 L1628.8 2165.7 L1628.2 2170.0 L1627.7 2174.4 L1627.3 2178.7 L1627.1 2183.2 L1627.1 2187.6 L1627.2 2192.1 L1627.4 2196.7 L1627.8 2201.2 L1628.3 2205.8 L1628.9 2210.4 L1629.6 2215.0 L1630.4 2219.6 L1631.4 2224.1 L1632.4 2228.7 L1633.5 2233.2 L1634.8 2237.7 L1636.0 2242.2 L1637.4 2246.6 L1638.8 2251.0 L1640.3 2255.3 L1641.8 2259.6 L1643.4 2263.8 L1645.1 2267.9 L1646.8 2272.0 L1648.5 2276.1 L1650.3 2280.1 L1652.2 2284.1 L1654.1 2288.0 L1656.0 2291.9 L1658.0 2295.8 L1660.1 2299.6 L1662.2 2303.4 L1664.4 2307.2 L1666.6 2311.0 L1668.8 2314.7 L1671.1 2318.4 L1673.4 2322.1 L1675.8 2325.7 L1678.2 2329.4 L1680.7 2333.0 L1683.2 2336.6 L1685.8 2340.3 L1688.4 2343.9 L1691.0 2347.5 L1693.6 2351.1 L1696.3 2354.7 L1699.0 2358.3 L1701.8 2361.9 L1704.5 2365.4 L1707.3 2369.0 L1710.1 2372.6 L1712.9 2376.2 L1715.7 2379.8 L1718.5 2383.4 L1721.3 2387.0 L1724.1 2390.7 L1726.8 2394.3 L1729.6 2397.9 L1732.3 2401.6 L1735.1 2405.2 L1737.8 2408.9 L1740.5 2412.6 L1743.1 2416.3 L1745.7 2420.0 L1748.3 2423.7 L1750.8 2427.4 L1753.3 2431.2 L1755.7 2435.0 L1758.1 2438.8 L1760.4 2442.6 L1762.7 2446.4 L1764.9 2450.3 L1767.1 2454.2 L1769.1 2458.1 L1771.1 2462.1 L1773.0 2466.0 L1774.9 2470.0 L1776.6 2474.0 L1778.3 2478.1 L1779.9 2482.2 L1781.4 2486.3 L1782.9 2490.4 L1784.2 2494.5 L1785.5 2498.7 L1786.7 2502.9 L1787.9 2507.1 L1789.0 2511.3 L1790.0 2515.6 L1790.9 2519.9 L1791.8 2524.2 L1792.5 2528.5 L1793.3 2532.8 L1793.9 2537.1 L1794.5 2541.5 L1795.1 2545.8 L1795.5 2550.2 L1795.9 2554.6 L1796.3 2559.0 L1796.6 2563.4 L1796.8 2567.8 L1796.9 2572.2 L1797.0 2576.7 L1797.1 2581.1 L1797.1 2585.6 L1797.0 2590.0 L1796.9 2594.5 L1796.7 2598.9 L1796.5 2603.4 L1796.3 2607.8 L1795.9 2612.3 L1795.6 2616.8 L1795.1 2621.2 L1794.7 2625.7 L1794.2 2630.1 L1793.6 2634.6 L1793.0 2639.0 L1792.3 2643.5 L1791.6 2647.9 L1790.9 2652.4 L1790.1 2656.8 L1789.3 2661.2 L1788.4 2665.7 L1787.5 2670.1 L1786.5 2674.5 L1785.5 2678.9 L1784.5 2683.3 L1783.4 2687.6 L1782.3 2692.0 L1781.1 2696.4 L1779.9 2700.7 L1778.7 2705.0 L1777.4 2709.4 L1776.1 2713.7 L1774.8 2718.0 L1773.4 2722.3 L1772.0 2726.5 L1770.5 2730.8 L1769.1 2735.0 L1767.5 2739.2 L1766.0 2743.4 L1764.4 2747.6 L1762.8 2751.8 L1761.1 2755.9 L1759.5 2760.1 L1757.8 2764.2 L1756.0 2768.3 L1754.2 2772.4 L1752.4 2776.4 L1750.6 2780.5 L1748.7 2784.5 L1746.8 2788.5 L1744.9 2792.5 L1742.9 2796.5 L1740.9 2800.5 L1738.9 2804.4 L1736.9 2808.3 L1734.8 2812.2 L1732.7 2816.1 L1730.5 2820.0 L1728.3 2823.8 L1726.1 2827.7 L1723.9 2831.5 L1721.6 2835.3 L1719.3 2839.1 L1717.0 2842.8 L1714.7 2846.6 L1712.3 2850.3 L1709.9 2854.0 L1707.5 2857.7 L1705.0 2861.4 L1702.5 2865.0 L1700.0 2868.7 L1697.5 2872.3 L1694.9 2875.9 L1692.3 2879.4 L1689.7 2883.0 L1687.0 2886.5 L1684.4 2890.1 L1681.7 2893.5 L1678.9 2897.0 L1676.2 2900.5 L1673.4 2903.9 L1670.6 2907.3 L1667.8 2910.7 L1664.9 2914.1 L1662.0 2917.5 L1659.1 2920.8 L1656.2 2924.2 L1653.2 2927.5 L1650.3 2930.7 L1647.3 2934.0 L1644.2 2937.2 L1641.2 2940.5 L1638.1 2943.7 L1635.0 2946.8 L1631.9 2950.0 L1628.8 2953.1 L1625.6 2956.2 L1622.4 2959.3 L1619.2 2962.4 L1616.0 2965.5 L1612.7 2968.5 L1609.4 2971.5 L1606.1 2974.5 L1602.8 2977.5 L1599.5 2980.4 L1596.1 2983.4 L1592.7 2986.3 L1589.3 2989.2 L1585.9 2992.0 L1582.5 2994.9 L1579.0 2997.7 L1575.5 3000.5 L1572.0 3003.3 L1568.5 3006.0 L1564.9 3008.8 L1561.4 3011.5 L1557.8 3014.2 L1554.2 3016.8 L1550.6 3019.5 L1546.9 3022.1 L1543.3 3024.7 L1539.6 3027.3 L1535.9 3029.8 L1532.2 3032.3 L1528.5 3034.8 L1524.7 3037.3 L1521.0 3039.8 L1517.2 3042.2 L1513.4 3044.6 L1509.6 3047.0 L1505.7 3049.3 L1501.9 3051.7 L1498.0 3054.0 L1494.2 3056.2 L1490.3 3058.5 L1486.4 3060.7 L1482.5 3062.9 L1478.5 3065.1 L1474.6 3067.2 L1470.6 3069.3 L1466.6 3071.4 L1462.6 3073.5 L1458.6 3075.5 L1454.6 3077.5 L1450.6 3079.5 L1446.6 3081.5 L1442.5 3083.4 L1438.4 3085.3 L1434.4 3087.2 L1430.3 3089.0 L1426.2 3090.8 L1422.0 3092.6 L1417.9 3094.4 L1413.8 3096.1 L1409.6 3097.8 L1405.5 3099.4 L1401.3 3101.1 L1397.1 3102.7 L1392.9 3104.3 L1388.7 3105.8 L1384.5 3107.3 L1380.3 3108.8 L1376.1 3110.2 L1371.8 3111.7 L1367.6 3113.0 L1363.3 3114.4 L1359.1 3115.7 L1354.8 3117.0 L1350.5 3118.3 L1346.2 3119.5 L1341.9 3120.7 L1337.6 3121.9 L1333.3 3123.0 L1329.0 3124.1 L1324.7 3125.1 L1320.3 3126.2 L1316.0 3127.2 L1311.6 3128.1 L1307.3 3129.1 L1302.9 3130.0 L1298.6 3130.8 L1294.2 3131.6 L1289.8 3132.4 L1285.5 3133.2 L1281.1 3133.9 L1276.7 3134.6 L1272.3 3135.2 L1267.9 3135.8 L1263.5 3136.4 L1259.1 3137.0 L1254.7 3137.5 L1250.3 3137.9 L1245.9 3138.4 L1241.5 3138.8 L1237.1 3139.1 L1232.7 3139.5 L1228.3 3139.7 L1223.8 3140.0 L1219.4 3140.2 L1215.0 3140.4 L1210.6 3140.6 L1206.1 3140.7 L1201.7 3140.8 L1197.3 3140.8 L1192.9 3140.8 L1188.4 3140.8 L1184.0 3140.7 L1179.6 3140.6 L1175.2 3140.5 L1170.8 3140.3 L1166.3 3140.1 L1161.9 3139.9 L1157.5 3139.6 L1153.1 3139.3 L1148.7 3139.0 L1144.3 3138.6 L1139.8 3138.2 L1135.4 3137.8 L1131.0 3137.3 L1126.6 3136.8 L1122.2 3136.2 L1117.8 3135.7 L1113.5 3135.1 L1109.1 3134.4 L1104.7 3133.7 L1100.3 3133.0 L1096.0 3132.3 L1091.6 3131.5 L1087.2 3130.7 L1082.9 3129.8 L1078.5 3128.9 L1074.2 3128.0 L1069.9 3127.1 L1065.5 3126.1 L1061.2 3125.1 L1056.9 3124.0 L1052.6 3122.9 L1048.3 3121.8 L1044.0 3120.6 L1039.7 3119.5 L1035.4 3118.2 L1031.1 3117.0 L1026.9 3115.7 L1022.6 3114.4 L1018.4 3113.0 L1014.2 3111.7 L1009.9 3110.2 L1005.7 3108.8 L1001.5 3107.3 L997.3 3105.8 L993.1 3104.2 L989.0 3102.7 L984.8 3101.0 L980.7 3099.4 L976.5 3097.7 L972.4 3096.0 L968.3 3094.3 L964.2 3092.5 L960.1 3090.7 L956.0 3088.8 L951.9 3087.0 L947.9 3085.0 L943.8 3083.1 L939.8 3081.1 L935.8 3079.1 L931.8 3077.1 L927.8 3075.0 L923.8 3072.9 L919.9 3070.8 L915.9 3068.6 L912.0 3066.4 L908.1 3064.2 L904.2 3062.0 L900.3 3059.7 L896.4 3057.4 L892.6 3055.0 L888.7 3052.6 L884.9 3050.2 L881.1 3047.8 L877.4 3045.3 L873.6 3042.8 L869.9 3040.2 L866.2 3037.7 L862.5 3035.1 L858.8 3032.4 L855.2 3029.8 L851.5 3027.1 L847.9 3024.4 L844.4 3021.6 L840.8 3018.9 L837.3 3016.1 L833.8 3013.2 L830.3 3010.4 L826.9 3007.5 L823.4 3004.5 L820.1 3001.6 L816.7 2998.6 L813.4 2995.6 L810.1 2992.6 L806.8 2989.5 L803.5 2986.4 L800.3 2983.3 L797.1 2980.1 L794.0 2976.9 L790.9 2973.7 L787.8 2970.5 L784.7 2967.2 L781.7 2964.0 L778.7 2960.6 L775.8 2957.3 L772.9 2953.9 L770.0 2950.5 L767.2 2947.1 L764.4 2943.7 L761.6 2940.2 L758.9 2936.7 L756.2 2933.1 L753.6 2929.6 L751.0 2926.0 L748.4 2922.4 L745.9 2918.8 L743.4 2915.1 L741.0 2911.4 L738.6 2907.7 L736.2 2904.0 L733.9 2900.2 L731.6 2896.4 L729.3 2892.6 L727.1 2888.8 L724.9 2885.0 L722.8 2881.1 L720.6 2877.2 L718.6 2873.3 L716.5 2869.4 L714.5 2865.5 L712.5 2861.5 L710.6 2857.5 L708.6 2853.6 L706.7 2849.5 L704.9 2845.5 L703.0 2841.5 L701.2 2837.4 L699.4 2833.4 L697.7 2829.3 L696.0 2825.2 L694.3 2821.1 L692.6 2817.0 L690.9 2812.8 L689.3 2808.7 L687.7 2804.5 L686.1 2800.4 L684.5 2796.2 L683.0 2792.0 L681.5 2787.8 L680.0 2783.6 L678.5 2779.4 L677.0 2775.2 L675.6 2771.0 L674.2 2766.8 L672.7 2762.5 L671.4 2758.3 L670.0 2754.0 L668.6 2749.8 L667.3 2745.5 L665.9 2741.3 L664.6 2737.0 L663.3 2732.8 L662.0 2728.5 L660.8 2724.2 L659.5 2720.0 L658.2 2715.7 L657.0 2711.4 L655.8 2707.1 L654.6 2702.9 L653.4 2698.6 L652.2 2694.3 L651.1 2690.0 L649.9 2685.7 L648.8 2681.4 L647.7 2677.1 L646.6 2672.8 L645.5 2668.5 L644.4 2664.1 L643.4 2659.8 L642.3 2655.5 L641.3 2651.2 L640.3 2646.8 L639.3 2642.5 L638.3 2638.2 L637.3 2633.8 L636.3 2629.5 L635.4 2625.2 L634.4 2620.8 L633.5 2616.5 L632.6 2612.1 L631.7 2607.8 L630.8 2603.4 L630.0 2599.0 L629.1 2594.7 L628.2 2590.3 L627.4 2586.0 L626.6 2581.6 L625.8 2577.2 L625.0 2572.8 L624.2 2568.5 L623.4 2564.1 L622.7 2559.7 L621.9 2555.3 L621.2 2550.9 L620.5 2546.5 L619.8 2542.1 L619.1 2537.8 L618.4 2533.4 L617.7 2529.0 L617.0 2524.6 L616.4 2520.2 L615.7 2515.7 L615.1 2511.3 L614.5 2506.9 L613.9 2502.5 L613.3 2498.1 L612.7 2493.7 L612.2 2489.3 L611.6 2484.9 L611.1 2480.4 L610.5 2476.0 L610.0 2471.6 L609.5 2467.2 L609.0 2462.7 L608.5 2458.3 L608.0 2453.9 L607.6 2449.4 L607.1 2445.0 L606.7 2440.6 L606.2 2436.1 L605.8 2431.7 L605.4 2427.3 L605.0 2422.8 L604.6 2418.4 L604.2 2413.9 L603.8 2409.5 L603.5 2405.0 L603.1 2400.6 L602.8 2396.1 L602.4 2391.7 L602.1 2387.2 L601.8 2382.8 L601.5 2378.3 L601.2 2373.9 L600.9 2369.4 L600.7 2365.0 L600.4 2360.5 L600.1 2356.0 L599.9 2351.6 L599.7 2347.1 L599.4 2342.7 L599.2 2338.2 L599.0 2333.7 L598.8 2329.3 L598.6 2324.8 L598.5 2320.3 L598.3 2315.9 L598.1 2311.4 L598.0 2306.9 L597.8 2302.5 L597.7 2298.0 L597.6 2293.5 L597.5 2289.1 L597.4 2284.6 L597.3 2280.1 L597.2 2275.6 L597.1 2271.2 L597.0 2266.7 L597.0 2262.2 L596.9 2257.8 L596.9 2253.3 L596.8 2248.8 L596.8 2244.3 L596.8 2239.9 L596.8 2235.4 L596.7 2230.9 L596.7 2226.5 L596.8 2222.0 L596.8 2217.5 L596.8 2213.0 L596.8 2208.6 L596.9 2204.1 L596.9 2199.6 L597.0 2195.1 L597.0 2190.7 L597.1 2186.2 L597.2 2181.7 L597.3 2177.3 L597.4 2172.8 L597.5 2168.3 L597.6 2163.8 L597.7 2159.4 L597.8 2154.9 L597.9 2150.4 L598.0 2146.0 L598.2 2141.5 L598.3 2137.0 L598.5 2132.6 L598.6 2128.1 L598.8 2123.6 L599.0 2119.2 L599.2 2114.7 L599.4 2110.2 L599.5 2105.8 L599.7 2101.3 L599.9 2096.9 L600.2 2092.4 L600.4 2087.9 L600.6 2083.5 L600.8 2079.0 L601.1 2074.6 L601.3 2070.1 L601.5 2065.7 L601.8 2061.2 L602.1 2056.8 L602.3 2052.3 L602.6 2047.9 L602.9 2043.4 L603.1 2039.0 L603.4 2034.5 L603.7 2030.1 L604.0 2025.6 L604.3 2021.2 L604.6 2016.8 L604.9 2012.3 L605.3 2007.9 L605.6 2003.4 L605.9 1999.0 L606.3 1994.6 L606.6 1990.1 L607.0 1985.7 L607.3 1981.3 L607.7 1976.9 L608.0 1972.4 L608.4 1968.0 L608.8 1963.6 L609.2 1959.1 L609.6 1954.7 L610.0 1950.3 L610.4 1945.9 L610.8 1941.5 L611.3 1937.0 L611.7 1932.6 L612.1 1928.2 L612.6 1923.8 L613.1 1919.4 L613.5 1914.9 L614.0 1910.5 L614.5 1906.1 L615.0 1901.7 L615.4 1897.3 L615.9 1892.9 L616.5 1888.5 L617.0 1884.1 L617.5 1879.7 L618.0 1875.3 L618.6 1870.8 L619.1 1866.4 L619.7 1862.0 L620.3 1857.6 L620.8 1853.2 L621.4 1848.8 L622.0 1844.4 L622.6 1840.0 L623.2 1835.6 L623.8 1831.2 L624.5 1826.8 L625.1 1822.4 L625.7 1818.0 L626.4 1813.6 L627.0 1809.3 L627.7 1804.9 L628.4 1800.5 L629.1 1796.1 L629.8 1791.7 L630.5 1787.3 L631.2 1782.9 L631.9 1778.5 L632.7 1774.1 L633.4 1769.7 L634.2 1765.4 L634.9 1761.0 L635.7 1756.6 L636.5 1752.2 L637.3 1747.8 L638.1 1743.4 L638.9 1739.1 L639.7 1734.7 L640.6 1730.3 L641.4 1725.9 L642.3 1721.5 L643.1 1717.2 L644.0 1712.8 L644.9 1708.4 L645.8 1704.0 L646.7 1699.7 L647.6 1695.3 L648.6 1690.9 L649.5 1686.6 L650.5 1682.2 L651.5 1677.8 L652.5 1673.5 L653.5 1669.1 L654.5 1664.8 L655.5 1660.4 L656.6 1656.1 L657.6 1651.7 L658.7 1647.4 L659.8 1643.1 L660.9 1638.7 L662.1 1634.4 L663.2 1630.1 L664.4 1625.8 L665.6 1621.5 L666.7 1617.2 L668.0 1612.9 L669.2 1608.6 L670.4 1604.3 L671.7 1600.0 L673.0 1595.8 L674.3 1591.5 L675.6 1587.2 L677.0 1583.0 L678.3 1578.7 L679.7 1574.5 L681.1 1570.3 L682.6 1566.0 L684.0 1561.8 L685.5 1557.6 L687.0 1553.4 L688.5 1549.2 L690.0 1545.0 L691.6 1540.8 L693.2 1536.7 L694.8 1532.5 L696.4 1528.4 L698.1 1524.2 L699.7 1520.1 L701.4 1516.0 L703.1 1511.8 L704.9 1507.7 L706.7 1503.6 L708.5 1499.6 L710.3 1495.5 L712.1 1491.4 L714.0 1487.4 L715.9 1483.3 L717.9 1479.3 L719.8 1475.3 L721.8 1471.3 L723.8 1467.3 L725.8 1463.3 L727.9 1459.3 L730.0 1455.4 L732.1 1451.4 L734.3 1447.5 L736.5 1443.6 L738.7 1439.7 L740.9 1435.8 L743.2 1431.9 L745.4 1428.1 L747.8 1424.2 L750.1 1420.4 L752.5 1416.6 L754.9 1412.8 L757.3 1409.0 L759.7 1405.3 L762.2 1401.5 L764.7 1397.8 L767.2 1394.1 L769.8 1390.4 L772.4 1386.7 L775.0 1383.1 L777.6 1379.5 L780.3 1375.9 L783.0 1372.3 L785.7 1368.7 L788.4 1365.2 L791.2 1361.7 L794.0 1358.2 L796.8 1354.7 L799.6 1351.3 L802.5 1347.8 L805.4 1344.4 L808.3 1341.1 L811.3 1337.7 L814.2 1334.4 L817.2 1331.1 L820.2 1327.8 L823.3 1324.6 L826.4 1321.4 L829.5 1318.2 L832.6 1315.0 L835.7 1311.9 L838.9 1308.8 L842.1 1305.7 L845.3 1302.7 L848.6 1299.6 L851.8 1296.7 L855.1 1293.7 L858.5 1290.8 L861.8 1287.9 L865.2 1285.0 L868.6 1282.2 L872.0 1279.4 L875.4 1276.6 L878.9 1273.9 L882.4 1271.2 L885.9 1268.5 L889.4 1265.9 L893.0 1263.3 L896.6 1260.8 L900.2 1258.2 L903.8 1255.7 L907.5 1253.3 L911.2 1250.9 L914.9 1248.5 L918.6 1246.2 L922.4 1243.9 L926.1 1241.6 L929.9 1239.4 L933.8 1237.2 L937.6 1235.0 L941.5 1232.9 L945.4 1230.8 L949.3 1228.8 L953.2 1226.8 L957.2 1224.9 L961.1 1222.9 L965.1 1221.0 L969.1 1219.2 L973.2 1217.4 L977.2 1215.6 L981.3 1213.9 L985.4 1212.2 L989.5 1210.5 L993.6 1208.9 L997.7 1207.3 L1001.9 1205.7 L1006.1 1204.2 L1010.2 1202.7 L1014.4 1201.3 L1018.7 1199.8 L1022.9 1198.5 L1027.1 1197.1 L1031.4 1195.8 L1035.7 1194.5 L1040.0 1193.3 L1044.3 1192.1 L1048.6 1190.9 L1052.9 1189.8 L1057.2 1188.6 L1061.6 1187.6 L1065.9 1186.5 L1070.3 1185.5 L1074.7 1184.5 L1079.1 1183.6 L1083.5 1182.7 L1087.9 1181.8 L1092.3 1181.0 L1096.7 1180.1 L1101.2 1179.4 L1105.6 1178.6 L1110.0 1177.9 L1114.5 1177.2 L1119.0 1176.5 L1123.4 1175.9 L1127.9 1175.3 L1132.4 1174.8 L1136.9 1174.2 L1141.3 1173.7 L1145.8 1173.2 L1150.3 1172.8 L1154.8 1172.4 L1159.3 1172.0 L1163.8 1171.6 L1168.3 1171.3 L1172.8 1171.0 L1177.4 1170.8 L1181.9 1170.5 L1186.4 1170.3 L1190.9 1170.1 L1195.4 1170.0 Z"/>
<path d="M1200.9 1026.7L1199.9 1169.9M1244.8 1027.7L1238.9 1170.0M1290.1 1031.1L1279.1 1172.4M1337.6 1037.2L1322.1 1177.9M1385.0 1046.2L1359.3 1185.2M1432.2 1058.3L1395.8 1195.1M1482.1 1074.9L1431.9 1207.8M1531.5 1095.7L1464.0 1221.9M1573.9 1117.4L1493.8 1237.8M1613.4 1141.2L1521.5 1255.3M1649.9 1166.9L1551.1 1277.5M1682.6 1193.2L1578.4 1301.1M1714.6 1222.5L1605.1 1326.8M1743.1 1251.7L1631.3 1354.1M1769.5 1282.1L1654.9 1380.1M1794.1 1313.7L1674.6 1402.6M1817.9 1347.7L1696.3 1428.9M1839.6 1382.8L1714.6 1453.6M1859.0 1418.1L1732.0 1480.6M1876.1 1453.7L1747.5 1509.8M1891.8 1491.3L1760.3 1539.5M1905.4 1529.6L1770.8 1570.7M1917.8 1572.6L1779.0 1602.3M1927.3 1614.8L1784.6 1632.6M1933.9 1654.9L1788.6 1667.9M1938.3 1699.1L1790.0 1700.8M1939.4 1742.9L1789.0 1737.0M1937.1 1787.7L1785.0 1774.9M1929.7 1837.9L1777.9 1813.2M1917.6 1886.9L1768.4 1849.5M1901.0 1935.1L1756.9 1884.2M1880.9 1980.3L1743.0 1919.9M1860.3 2019.1L1725.9 1958.4M1837.6 2058.5L1709.2 1992.8M1817.9 2093.4L1689.5 2030.5M1800.0 2128.3L1669.1 2068.1M1785.7 2162.5L1640.3 2125.6M1778.8 2191.6L1627.1 2185.9M1779.9 2222.0L1638.9 2251.2M1792.0 2251.8L1661.6 2302.3M1820.2 2290.2L1685.2 2339.4M1850.5 2323.8L1707.2 2368.8M1879.3 2358.6L1730.7 2399.4M1898.7 2390.0L1751.7 2428.9M1916.8 2431.8L1773.4 2466.7M1928.9 2476.4L1786.8 2503.2M1935.8 2524.6L1794.4 2540.6M1937.8 2566.6L1797.0 2574.3M1936.1 2615.6L1795.9 2613.3M1931.5 2659.5L1792.2 2644.7M1924.5 2699.9L1786.8 2673.3M1915.2 2739.3L1778.6 2705.4M1905.3 2772.4L1769.0 2735.1M1892.6 2807.9L1757.0 2766.0M1876.5 2845.9L1743.5 2795.3M1856.9 2885.0L1727.6 2825.1M1831.9 2927.4L1710.1 2853.8M1805.8 2965.2L1686.7 2887.0M1776.3 3001.9L1663.0 2916.3M1740.4 3040.5L1636.2 2945.6M1703.1 3075.5L1606.2 2974.5M1665.4 3107.2L1577.2 2999.1M1628.6 3135.2L1545.8 3022.9M1588.9 3162.5L1514.2 3044.1M1548.5 3187.4L1478.8 3064.9M1506.8 3210.1L1442.4 3083.5M1459.9 3232.0L1403.3 3100.3M1399.3 3254.8L1357.4 3116.2M1345.1 3269.9L1314.5 3127.5M1293.2 3279.6L1269.8 3135.6M1241.1 3284.7L1230.0 3139.6M1192.7 3285.6L1189.3 3140.8M1142.1 3283.0L1148.1 3139.0M1090.8 3276.7L1106.9 3134.1M1041.3 3267.5L1068.7 3126.8M991.2 3255.0L1028.9 3116.3M940.7 3238.8L990.3 3103.2M888.8 3217.7L950.2 3086.2M835.6 3190.1L912.6 3066.8M787.5 3158.6L875.1 3043.8M745.4 3125.1L837.5 3016.2M705.2 3087.1L803.1 2986.0M670.8 3048.9L774.6 2955.9M637.0 3005.4L749.5 2924.0M602.8 2953.8L726.0 2886.9M572.3 2899.4L706.7 2849.4M545.1 2841.7L686.0 2800.0M524.8 2790.5L669.7 2753.0M508.8 2742.6L656.5 2709.7M495.7 2696.1L645.4 2668.2M482.6 2639.8L634.0 2618.6M473.0 2588.2L624.3 2568.9M465.4 2536.3L616.6 2521.5M459.7 2484.8L610.5 2475.6M456.1 2442.3L606.2 2436.4M453.5 2400.2L602.7 2395.9M451.8 2360.3L600.0 2353.3M450.8 2321.8L598.4 2318.1M450.3 2284.4L597.3 2281.5M450.4 2245.6L596.8 2244.4M451.0 2205.7L596.9 2205.2M452.0 2168.3L597.5 2167.6M453.5 2128.4L598.5 2131.0M455.5 2088.4L600.2 2092.4M458.0 2045.8L602.2 2053.8M460.7 2006.6L604.5 2018.3M464.4 1960.3L607.9 1973.9M468.5 1917.5L611.5 1934.9M472.4 1881.0L615.3 1898.5M476.7 1846.3L620.2 1857.8M481.6 1810.6L624.1 1829.2M487.2 1774.6L629.0 1796.8M493.0 1741.0L634.3 1764.6M499.0 1709.7L639.8 1734.2M505.1 1680.8L645.0 1708.1M512.3 1649.8L651.2 1679.2M521.0 1615.8L658.5 1648.2M529.6 1585.0L666.3 1618.9M540.2 1550.4L674.0 1592.6M551.2 1517.9L684.6 1560.0M564.1 1483.2L696.2 1529.0M578.9 1447.1L709.2 1498.0M594.8 1411.9L723.3 1468.2M613.1 1375.3L738.6 1439.7M633.3 1338.9L756.3 1410.5M656.4 1302.0L776.8 1380.6M682.8 1264.7L797.6 1353.7M707.6 1234.2L819.5 1328.7M739.4 1199.9L843.3 1304.6M772.2 1169.5L868.3 1282.4M811.3 1138.6L896.3 1260.9M850.5 1112.8L926.2 1241.5M890.8 1091.0L957.0 1224.9M930.8 1073.5L985.9 1211.9M975.6 1057.8L1019.3 1199.6M1020.1 1046.0L1052.0 1190.0M1065.0 1037.2L1086.3 1182.1M1115.0 1030.7L1125.0 1175.7M1160.1 1027.5L1163.9 1171.6"/>
<path d="M1531.8 1991.7 L1531.2 1995.2 L1530.8 1998.7 L1530.3 2002.2 L1529.9 2005.7 L1529.5 2009.2 L1529.2 2012.7 L1528.8 2016.2 L1528.6 2019.7 L1528.3 2023.2 L1528.1 2026.8 L1527.9 2030.3 L1527.7 2033.8 L1527.6 2037.3 L1527.5 2040.8 L1527.4 2044.3 L1527.4 2047.9 L1527.4 2051.4 L1527.4 2054.9 L1527.5 2058.4 L1527.5 2061.9 L1527.7 2065.4 L1527.8 2069.0 L1528.0 2072.5 L1528.2 2076.0 L1528.4 2079.5 L1528.7 2083.0 L1529.0 2086.5 L1529.3 2090.0 L1529.7 2093.5 L1530.1 2097.1 L1530.5 2100.6 L1530.9 2104.0 L1531.4 2107.5 L1531.9 2111.0 L1532.4 2114.5 L1533.0 2118.0 L1533.5 2121.5 L1534.1 2125.0 L1534.8 2128.4 L1535.5 2131.9 L1536.1 2135.3 L1536.9 2138.8 L1537.6 2142.2 L1538.4 2145.7 L1539.2 2149.1 L1540.0 2152.6 L1540.9 2156.0 L1541.8 2159.4 L1542.7 2162.8 L1543.6 2166.2 L1544.6 2169.6 L1545.6 2173.0 L1546.6 2176.4 L1547.6 2179.7 L1548.7 2183.1 L1549.8 2186.5 L1550.9 2189.8 L1552.0 2193.2 L1553.2 2196.5 L1554.4 2199.8 L1555.6 2203.1 L1556.9 2206.4 L1558.1 2209.7 L1559.4 2213.0 L1560.7 2216.3 L1562.1 2219.5 L1563.4 2222.8 L1564.8 2226.0 L1566.2 2229.3 L1567.7 2232.5 L1569.1 2235.7 L1570.6 2238.9 L1572.1 2242.1 L1573.6 2245.3 L1575.1 2248.5 L1576.7 2251.6 L1578.2 2254.8 L1579.8 2257.9 L1581.4 2261.1 L1583.1 2264.2 L1584.7 2267.3 L1586.4 2270.4 L1588.1 2273.5 L1589.8 2276.6 L1591.5 2279.7 L1593.3 2282.7 L1595.0 2285.8 L1596.8 2288.8 L1598.6 2291.9 L1600.4 2294.9 L1602.3 2297.9 L1604.1 2300.9 L1606.0 2303.9 L1607.8 2306.8 L1609.7 2309.8 L1611.6 2312.7 L1613.6 2315.7 L1615.5 2318.6 L1617.5 2321.5 L1619.4 2324.4 L1621.4 2327.3 L1623.4 2330.2 L1625.4 2333.1 L1627.4 2335.9 L1629.5 2338.8 L1631.5 2341.6 L1633.6 2344.4 L1635.6 2347.3 L1637.7 2350.1 L1639.8 2352.9 L1641.9 2355.7 L1644.0 2358.4 L1646.1 2361.2 L1648.3 2364.0 L1650.4 2366.8 L1652.6 2369.6 L1654.7 2372.3 L1656.9 2375.1 L1659.1 2377.9 L1661.3 2380.7 L1663.5 2383.5 L1665.7 2386.2 L1667.9 2389.0 L1670.1 2391.8 L1672.4 2394.7 L1674.6 2397.5 L1676.8 2400.3 L1679.1 2403.1 L1681.3 2406.0 L1683.5 2408.9 L1685.6 2411.8 L1687.7 2414.7 L1689.8 2417.6 L1691.9 2420.5 L1693.9 2423.5 L1695.8 2426.5 L1697.7 2429.5 L1699.5 2432.5 L1701.3 2435.6 L1703.1 2438.6 L1704.8 2441.7 L1706.5 2444.8 L1708.1 2447.9 L1709.7 2451.0 L1711.2 2454.2 L1712.7 2457.3 L1714.2 2460.5 L1715.6 2463.7 L1717.0 2466.9 L1718.3 2470.1 L1719.6 2473.4 L1720.8 2476.6 L1722.0 2479.9 L1723.2 2483.2 L1724.3 2486.5 L1725.3 2489.8 L1726.4 2493.1 L1727.4 2496.4 L1728.3 2499.8 L1729.2 2503.1 L1730.1 2506.5 L1731.0 2509.9 L1731.8 2513.3 L1732.5 2516.7 L1733.2 2520.1 L1733.9 2523.5 L1734.6 2526.9 L1735.2 2530.3 L1735.7 2533.8 L1736.3 2537.2 L1736.8 2540.7 L1737.2 2544.2 L1737.7 2547.6 L1738.0 2551.1 L1738.4 2554.6 L1738.7 2558.1 L1739.0 2561.6 L1739.2 2565.1 L1739.5 2568.6 L1739.6 2572.1 L1739.8 2575.6 L1739.9 2579.1 L1740.0 2582.6 L1740.0 2586.2 L1740.0 2589.7 L1740.0 2593.2 L1739.9 2596.8 L1739.9 2600.3 L1739.7 2603.8 L1739.6 2607.4 L1739.4 2610.9 L1739.2 2614.4 L1739.0 2618.0 L1738.7 2621.5 L1738.4 2625.1 L1738.0 2628.6 L1737.7 2632.1 L1737.3 2635.7 L1736.9 2639.2 L1736.4 2642.7 L1735.9 2646.2 L1735.4 2649.8 L1734.9 2653.3 L1734.3 2656.8 L1733.7 2660.3 L1733.1 2663.8 L1732.5 2667.3 L1731.8 2670.8 L1731.1 2674.3 L1730.4 2677.8 L1729.6 2681.3 L1728.9 2684.8 L1728.1 2688.2 L1727.2 2691.7 L1726.4 2695.1 L1725.5 2698.6 L1724.6 2702.0 L1723.7 2705.4 L1722.7 2708.9 L1721.8 2712.3 L1720.8 2715.7 L1719.7 2719.1 L1718.7 2722.5 L1717.6 2725.8 L1716.5 2729.2 L1715.4 2732.6 L1714.3 2735.9 L1713.1 2739.2 L1712.0 2742.6 L1710.7 2745.9 L1709.5 2749.2 L1708.3 2752.5 L1707.0 2755.8 L1705.7 2759.1 L1704.4 2762.3 L1703.0 2765.6 L1701.7 2768.9 L1700.3 2772.1 L1698.9 2775.3 L1697.5 2778.5 L1696.0 2781.8 L1694.5 2785.0 L1693.0 2788.1 L1691.5 2791.3 L1690.0 2794.5 L1688.4 2797.7 L1686.9 2800.8 L1685.3 2803.9 L1683.6 2807.1 L1682.0 2810.2 L1680.3 2813.3 L1678.7 2816.4 L1677.0 2819.4 L1675.2 2822.5 L1673.5 2825.6 L1671.7 2828.6 L1670.0 2831.6 L1668.2 2834.7 L1666.3 2837.7 L1664.5 2840.7 L1662.6 2843.6 L1660.8 2846.6 L1658.9 2849.6 L1656.9 2852.5 L1655.0 2855.5 L1653.0 2858.4 L1651.1 2861.3 L1649.1 2864.2 L1647.1 2867.1 L1645.0 2869.9 L1643.0 2872.8 L1640.9 2875.6 L1638.8 2878.5 L1636.7 2881.3 L1634.6 2884.1 L1632.4 2886.9 L1630.3 2889.7 L1628.1 2892.4 L1625.9 2895.2 L1623.7 2897.9 L1621.5 2900.6 L1619.2 2903.4 L1617.0 2906.1 L1614.7 2908.7 L1612.4 2911.4 L1610.1 2914.1 L1607.7 2916.7 L1605.4 2919.3 L1603.0 2921.9 L1600.6 2924.5 L1598.2 2927.1 L1595.8 2929.7 L1593.4 2932.2 L1591.0 2934.8 L1588.5 2937.3 L1586.0 2939.8 L1583.5 2942.3 L1581.0 2944.8 L1578.5 2947.2 L1575.9 2949.7 L1573.4 2952.1 L1570.8 2954.5 L1568.2 2956.9 L1565.6 2959.3 L1563.0 2961.6 L1560.4 2964.0 L1557.7 2966.3 L1555.1 2968.6 L1552.4 2970.9 L1549.7 2973.2 L1547.0 2975.5 L1544.3 2977.7 L1541.6 2980.0 L1538.8 2982.2 L1536.1 2984.4 L1533.3 2986.6 L1530.5 2988.8 L1527.7 2990.9 L1524.9 2993.0 L1522.1 2995.2 L1519.2 2997.3 L1516.4 2999.3 L1513.5 3001.4 L1510.6 3003.5 L1507.7 3005.5 L1504.8 3007.5 L1501.9 3009.5 L1499.0 3011.5 L1496.1 3013.4 L1493.1 3015.4 L1490.1 3017.3 L1487.2 3019.2 L1484.2 3021.1 L1481.2 3022.9 L1478.2 3024.8 L1475.1 3026.6 L1472.1 3028.4 L1469.1 3030.2 L1466.0 3032.0 L1462.9 3033.8 L1459.9 3035.5 L1456.8 3037.2 L1453.7 3038.9 L1450.5 3040.6 L1447.4 3042.2 L1444.3 3043.9 L1441.2 3045.5 L1438.0 3047.1 L1434.8 3048.7 L1431.7 3050.2 L1428.5 3051.8 L1425.3 3053.3 L1422.1 3054.8 L1418.9 3056.3 L1415.7 3057.7 L1412.4 3059.2 L1409.2 3060.6 L1406.0 3062.0 L1402.7 3063.4 L1399.4 3064.7 L1396.2 3066.0 L1392.9 3067.4 L1389.6 3068.6 L1386.3 3069.9 L1383.0 3071.2 L1379.7 3072.4 L1376.4 3073.6 L1373.1 3074.8 L1369.7 3075.9 L1366.4 3077.1 L1363.0 3078.2 L1359.7 3079.3 L1356.3 3080.3 L1353.0 3081.4 L1349.6 3082.4 L1346.2 3083.4 L1342.8 3084.4 L1339.4 3085.3 L1336.0 3086.3 L1332.6 3087.2 L1329.2 3088.0 L1325.8 3088.9 L1322.4 3089.7 L1319.0 3090.6 L1315.6 3091.3 L1312.1 3092.1 L1308.7 3092.8 L1305.2 3093.6 L1301.8 3094.3 L1298.3 3094.9 L1294.9 3095.6 L1291.4 3096.2 L1288.0 3096.8 L1284.5 3097.4 L1281.0 3097.9 L1277.5 3098.4 L1274.1 3098.9 L1270.6 3099.4 L1267.1 3099.8 L1263.6 3100.2 L1260.1 3100.6 L1256.6 3101.0 L1253.1 3101.3 L1249.6 3101.7 L1246.1 3102.0 L1242.6 3102.2 L1239.1 3102.5 L1235.6 3102.7 L1232.1 3102.8 L1228.6 3103.0 L1225.1 3103.1 L1221.6 3103.2 L1218.1 3103.3 L1214.5 3103.4 L1211.0 3103.4 L1207.5 3103.4 L1204.0 3103.4 L1200.5 3103.3 L1197.0 3103.2 L1193.4 3103.1 L1189.9 3103.0 L1186.4 3102.8 L1182.9 3102.6 L1179.4 3102.4 L1175.8 3102.1 L1172.3 3101.9 L1168.8 3101.6 L1165.3 3101.2 L1161.8 3100.9 L1158.3 3100.5 L1154.8 3100.1 L1151.3 3099.7 L1147.7 3099.2 L1144.2 3098.8 L1140.7 3098.3 L1137.2 3097.7 L1133.7 3097.2 L1130.3 3096.6 L1126.8 3096.0 L1123.3 3095.4 L1119.8 3094.7 L1116.3 3094.0 L1112.9 3093.4 L1109.4 3092.6 L1105.9 3091.9 L1102.5 3091.1 L1099.0 3090.3 L1095.6 3089.5 L1092.1 3088.7 L1088.7 3087.8 L1085.2 3086.9 L1081.8 3086.0 L1078.4 3085.1 L1075.0 3084.1 L1071.6 3083.2 L1068.1 3082.2 L1064.8 3081.1 L1061.4 3080.1 L1058.0 3079.0 L1054.6 3078.0 L1051.2 3076.9 L1047.9 3075.7 L1044.5 3074.6 L1041.2 3073.4 L1037.8 3072.2 L1034.5 3071.0 L1031.2 3069.8 L1027.9 3068.5 L1024.6 3067.3 L1021.3 3066.0 L1018.0 3064.7 L1014.7 3063.3 L1011.5 3062.0 L1008.2 3060.6 L1004.9 3059.2 L1001.7 3057.8 L998.5 3056.4 L995.3 3054.9 L992.1 3053.4 L988.9 3051.9 L985.7 3050.4 L982.5 3048.9 L979.3 3047.3 L976.2 3045.8 L973.0 3044.2 L969.9 3042.6 L966.8 3040.9 L963.7 3039.3 L960.6 3037.6 L957.5 3035.9 L954.4 3034.2 L951.4 3032.5 L948.3 3030.7 L945.3 3029.0 L942.3 3027.2 L939.2 3025.4 L936.2 3023.5 L933.2 3021.7 L930.3 3019.8 L927.3 3018.0 L924.4 3016.1 L921.4 3014.1 L918.5 3012.2 L915.6 3010.2 L912.7 3008.3 L909.8 3006.3 L906.9 3004.2 L904.1 3002.2 L901.2 3000.1 L898.4 2998.1 L895.6 2996.0 L892.8 2993.9 L890.0 2991.7 L887.2 2989.6 L884.5 2987.4 L881.7 2985.2 L879.0 2983.0 L876.3 2980.8 L873.6 2978.6 L870.9 2976.3 L868.2 2974.0 L865.6 2971.7 L862.9 2969.4 L860.3 2967.1 L857.7 2964.7 L855.1 2962.3 L852.5 2960.0 L850.0 2957.5 L847.4 2955.1 L844.9 2952.7 L842.4 2950.2 L839.9 2947.7 L837.4 2945.2 L834.9 2942.7 L832.5 2940.2 L830.1 2937.6 L827.7 2935.0 L825.3 2932.5 L822.9 2929.8 L820.5 2927.2 L818.2 2924.6 L815.9 2921.9 L813.6 2919.2 L811.3 2916.5 L809.0 2913.8 L806.8 2911.1 L804.5 2908.4 L802.3 2905.6 L800.1 2902.8 L797.9 2900.1 L795.7 2897.3 L793.6 2894.4 L791.5 2891.6 L789.3 2888.8 L787.2 2885.9 L785.2 2883.0 L783.1 2880.1 L781.0 2877.2 L779.0 2874.3 L777.0 2871.4 L775.0 2868.5 L773.0 2865.5 L771.1 2862.6 L769.1 2859.6 L767.2 2856.6 L765.3 2853.6 L763.4 2850.6 L761.5 2847.6 L759.7 2844.6 L757.8 2841.5 L756.0 2838.5 L754.2 2835.4 L752.4 2832.3 L750.6 2829.3 L748.9 2826.2 L747.1 2823.1 L745.4 2820.0 L743.7 2816.9 L742.0 2813.8 L740.3 2810.6 L738.7 2807.5 L737.1 2804.4 L735.4 2801.2 L733.8 2798.1 L732.2 2794.9 L730.7 2791.7 L729.1 2788.6 L727.6 2785.4 L726.1 2782.2 L724.6 2779.0 L723.1 2775.8 L721.6 2772.6 L720.2 2769.4 L718.8 2766.2 L717.3 2763.0 L715.9 2759.7 L714.6 2756.5 L713.2 2753.3 L711.8 2750.0 L710.5 2746.8 L709.2 2743.5 L707.9 2740.3 L706.6 2737.0 L705.3 2733.7 L704.0 2730.4 L702.8 2727.2 L701.6 2723.9 L700.4 2720.6 L699.2 2717.3 L698.0 2714.0 L696.8 2710.7 L695.6 2707.4 L694.5 2704.1 L693.4 2700.7 L692.3 2697.4 L691.2 2694.1 L690.1 2690.7 L689.0 2687.4 L687.9 2684.1 L686.9 2680.7 L685.9 2677.4 L684.9 2674.0 L683.9 2670.6 L682.9 2667.3 L681.9 2663.9 L680.9 2660.5 L680.0 2657.2 L679.0 2653.8 L678.1 2650.4 L677.2 2647.0 L676.3 2643.6 L675.4 2640.2 L674.5 2636.8 L673.7 2633.4 L672.8 2630.0 L672.0 2626.6 L671.2 2623.2 L670.3 2619.8 L669.5 2616.3 L668.7 2612.9 L668.0 2609.5 L667.2 2606.0 L666.4 2602.6 L665.7 2599.2 L665.0 2595.7 L664.2 2592.3 L663.5 2588.8 L662.8 2585.4 L662.1 2581.9 L661.5 2578.5 L660.8 2575.0 L660.1 2571.6 L659.5 2568.1 L658.8 2564.6 L658.2 2561.2 L657.6 2557.7 L657.0 2554.2 L656.4 2550.7 L655.8 2547.3 L655.2 2543.8 L654.6 2540.3 L654.1 2536.8 L653.5 2533.3 L653.0 2529.8 L652.5 2526.3 L651.9 2522.9 L651.4 2519.4 L650.9 2515.9 L650.4 2512.4 L649.9 2508.9 L649.4 2505.4 L649.0 2501.9 L648.5 2498.4 L648.0 2494.8 L647.6 2491.3 L647.2 2487.8 L646.7 2484.3 L646.3 2480.8 L645.9 2477.3 L645.5 2473.8 L645.1 2470.3 L644.7 2466.7 L644.3 2463.2 L643.9 2459.7 L643.5 2456.2 L643.2 2452.7 L642.8 2449.2 L642.5 2445.6 L642.1 2442.1 L641.8 2438.6 L641.4 2435.1 L641.1 2431.5 L640.8 2428.0 L640.5 2424.5 L640.2 2421.0 L639.9 2417.4 L639.6 2413.9 L639.3 2410.4 L639.0 2406.9 L638.7 2403.3 L638.4 2399.8 L638.2 2396.3 L637.9 2392.8 L637.6 2389.2 L637.4 2385.7 L637.1 2382.2 L636.9 2378.6 L636.7 2375.1 L636.4 2371.6 L636.2 2368.1 L636.0 2364.5 L635.8 2361.0 L635.5 2357.5 L635.3 2354.0 L635.1 2350.4 L634.9 2346.9 L634.8 2343.4 L634.6 2339.9 L634.4 2336.3 L634.2 2332.8 L634.0 2329.3 L633.9 2325.8 L633.7 2322.2 L633.6 2318.7 L633.4 2315.2 L633.3 2311.7 L633.1 2308.1 L633.0 2304.6 L632.9 2301.1 L632.8 2297.6 L632.7 2294.0 L632.5 2290.5 L632.4 2287.0 L632.3 2283.5 L632.2 2279.9 L632.2 2276.4 L632.1 2272.9 L632.0 2269.4 L631.9 2265.8 L631.8 2262.3 L631.8 2258.8 L631.7 2255.3 L631.7 2251.7 L631.6 2248.2 L631.6 2244.7 L631.6 2241.2 L631.5 2237.7 L631.5 2234.1 L631.5 2230.6 L631.5 2227.1 L631.4 2223.6 L631.4 2220.0 L631.4 2216.5 L631.4 2213.0 L631.5 2209.5 L631.5 2206.0 L631.5 2202.4 L631.5 2198.9 L631.6 2195.4 L631.6 2191.9 L631.6 2188.4 L631.7 2184.8 L631.7 2181.3 L631.8 2177.8 L631.9 2174.3 L631.9 2170.8 L632.0 2167.2 L632.1 2163.7 L632.2 2160.2 L632.3 2156.7 L632.4 2153.2 L632.5 2149.7 L632.6 2146.1 L632.7 2142.6 L632.8 2139.1 L632.9 2135.6 L633.0 2132.1 L633.2 2128.6 L633.3 2125.0 L633.5 2121.5 L633.6 2118.0 L633.8 2114.5 L633.9 2111.0 L634.1 2107.5 L634.3 2104.0 L634.4 2100.4 L634.6 2096.9 L634.8 2093.4 L635.0 2089.9 L635.2 2086.4 L635.4 2082.9 L635.6 2079.4 L635.8 2075.9 L636.0 2072.3 L636.3 2068.8 L636.5 2065.3 L636.7 2061.8 L637.0 2058.3 L637.2 2054.8 L637.5 2051.3 L637.7 2047.8 L638.0 2044.3 L638.2 2040.8 L638.5 2037.2 L638.8 2033.7 L639.1 2030.2 L639.3 2026.7 L639.6 2023.2 L639.9 2019.7 L640.2 2016.2 L640.5 2012.7 L640.9 2009.2 L641.2 2005.7 L641.5 2002.2 L641.8 1998.7 L642.2 1995.2 L642.5 1991.7 L642.9 1988.2 L643.2 1984.7 L643.6 1981.2 L643.9 1977.7 L644.3 1974.2 L644.7 1970.7 L645.0 1967.2 L645.4 1963.7 L645.8 1960.2 L646.2 1956.7 L646.6 1953.2 L647.0 1949.7 L647.4 1946.2 L647.8 1942.7 L648.2 1939.2 L648.7 1935.7 L649.1 1932.2 L649.5 1928.7 L650.0 1925.2 L650.4 1921.7 L650.9 1918.2 L651.3 1914.7 L651.8 1911.2 L652.3 1907.7 L652.7 1904.2 L653.2 1900.7 L653.7 1897.2 L654.2 1893.8 L654.7 1890.3 L655.2 1886.8 L655.7 1883.3 L656.2 1879.8 L656.7 1876.3 L657.2 1872.8 L657.7 1869.3 L658.3 1865.8 L658.8 1862.3 L659.4 1858.9 L659.9 1855.4 L660.5 1851.9 L661.0 1848.4 L661.6 1844.9 L662.1 1841.4 L662.7 1838.0 L663.3 1834.5 L663.9 1831.0 L664.5 1827.5 L665.1 1824.0 L665.7 1820.5 L666.3 1817.1 L666.9 1813.6 L667.5 1810.1 L668.1 1806.6 L668.7 1803.1 L669.4 1799.7 L670.0 1796.2 L670.6 1792.7 L671.3 1789.2 L671.9 1785.8 L672.6 1782.3 L673.3 1778.8 L673.9 1775.3 L674.6 1771.9 L675.3 1768.4 L676.0 1764.9 L676.7 1761.5 L677.4 1758.0 L678.1 1754.5 L678.8 1751.0 L679.5 1747.6 L680.2 1744.1 L680.9 1740.6 L681.6 1737.2 L682.4 1733.7 L683.1 1730.2 L683.9 1726.8 L684.6 1723.3 L685.4 1719.8 L686.1 1716.4 L686.9 1712.9 L687.7 1709.5 L688.4 1706.0 L689.2 1702.5 L690.0 1699.1 L690.8 1695.6 L691.6 1692.2 L692.4 1688.7 L693.3 1685.3 L694.1 1681.8 L694.9 1678.4 L695.8 1675.0 L696.6 1671.5 L697.5 1668.1 L698.3 1664.6 L699.2 1661.2 L700.1 1657.8 L701.0 1654.4 L701.9 1650.9 L702.8 1647.5 L703.7 1644.1 L704.6 1640.7 L705.6 1637.3 L706.5 1633.9 L707.4 1630.4 L708.4 1627.0 L709.4 1623.6 L710.4 1620.3 L711.3 1616.9 L712.3 1613.5 L713.4 1610.1 L714.4 1606.7 L715.4 1603.3 L716.4 1600.0 L717.5 1596.6 L718.5 1593.2 L719.6 1589.9 L720.7 1586.5 L721.8 1583.2 L722.9 1579.8 L724.0 1576.5 L725.1 1573.2 L726.3 1569.8 L727.4 1566.5 L728.6 1563.2 L729.8 1559.9 L730.9 1556.6 L732.1 1553.3 L733.4 1550.0 L734.6 1546.7 L735.8 1543.4 L737.1 1540.1 L738.3 1536.9 L739.6 1533.6 L740.9 1530.3 L742.2 1527.1 L743.5 1523.8 L744.8 1520.6 L746.2 1517.4 L747.5 1514.1 L748.9 1510.9 L750.3 1507.7 L751.7 1504.5 L753.1 1501.3 L754.5 1498.1 L755.9 1494.9 L757.4 1491.8 L758.9 1488.6 L760.3 1485.4 L761.8 1482.3 L763.4 1479.1 L764.9 1476.0 L766.4 1472.8 L768.0 1469.7 L769.6 1466.6 L771.2 1463.5 L772.8 1460.4 L774.4 1457.3 L776.0 1454.2 L777.7 1451.2 L779.4 1448.1 L781.0 1445.0 L782.8 1442.0 L784.5 1439.0 L786.2 1435.9 L788.0 1432.9 L789.7 1429.9 L791.5 1426.9 L793.3 1423.9 L795.2 1420.9 L797.0 1418.0 L798.9 1415.0 L800.8 1412.1 L802.7 1409.1 L804.6 1406.2 L806.5 1403.3 L808.5 1400.3 L810.4 1397.4 L812.4 1394.6 L814.4 1391.7 L816.5 1388.8 L818.5 1385.9 L820.6 1383.1 L822.7 1380.3 L824.8 1377.4 L826.9 1374.6 L829.1 1371.8 L831.2 1369.0 L833.4 1366.2 L835.6 1363.5 L837.8 1360.7 L840.1 1358.0 L842.4 1355.2 L844.6 1352.5 L846.9 1349.8 L849.3 1347.1 L851.6 1344.4 L854.0 1341.8 L856.4 1339.1 L858.7 1336.5 L861.2 1333.9 L863.6 1331.3 L866.1 1328.7 L868.5 1326.1 L871.0 1323.6 L873.5 1321.0 L876.1 1318.5 L878.6 1316.0 L881.2 1313.5 L883.7 1311.0 L886.3 1308.6 L888.9 1306.2 L891.6 1303.8 L894.2 1301.4 L896.9 1299.0 L899.6 1296.7 L902.3 1294.3 L905.0 1292.0 L907.7 1289.7 L910.4 1287.5 L913.2 1285.2 L916.0 1283.0 L918.8 1280.8 L921.6 1278.6 L924.4 1276.5 L927.2 1274.4 L930.1 1272.3 L933.0 1270.2 L935.9 1268.1 L938.8 1266.1 L941.7 1264.1 L944.6 1262.1 L947.6 1260.2 L950.5 1258.2 L953.5 1256.3 L956.5 1254.5 L959.5 1252.6 L962.5 1250.8 L965.5 1249.0 L968.6 1247.3 L971.7 1245.6 L974.7 1243.9 L977.8 1242.3 L980.9 1240.7 L984.1 1239.1 L987.2 1237.5 L990.3 1236.0 L993.5 1234.6 L996.7 1233.1 L999.9 1231.8 L1003.1 1230.4 L1006.3 1229.1 L1009.6 1227.8 L1012.8 1226.6 L1016.1 1225.4 L1019.4 1224.3 L1022.7 1223.1 L1026.0 1222.1 L1029.3 1221.0 L1032.6 1220.0 L1036.0 1219.1 L1039.3 1218.1 L1042.7 1217.2 L1046.1 1216.4 L1049.5 1215.5 L1052.9 1214.7 L1056.3 1214.0 L1059.7 1213.2 L1063.1 1212.5 L1066.6 1211.8 L1070.0 1211.2 L1073.5 1210.6 L1076.9 1210.0 L1080.4 1209.4 L1083.9 1208.8 L1087.4 1208.3 L1090.9 1207.8 L1094.4 1207.3 L1097.9 1206.9 L1101.4 1206.5 L1104.9 1206.0 L1108.4 1205.6 L1112.0 1205.3 L1115.5 1204.9 L1119.0 1204.6 L1122.6 1204.2 L1126.1 1203.9 L1129.7 1203.6 L1133.2 1203.4 L1136.8 1203.1 L1140.3 1202.9 L1143.9 1202.6 L1147.4 1202.4 L1151.0 1202.2 L1154.6 1202.0 L1158.1 1201.8 L1161.7 1201.6 L1165.2 1201.4 L1168.8 1201.2 L1172.4 1201.1 L1175.9 1200.9 L1179.5 1200.7 L1183.0 1200.6 L1186.6 1200.4 L1190.2 1200.3 L1193.7 1200.2 L1197.3 1200.0 L1200.8 1199.9 L1204.4 1199.8 L1207.9 1199.7 L1211.4 1199.6 L1215.0 1199.5 L1218.5 1199.4 L1222.0 1199.4 L1225.6 1199.3 L1229.1 1199.3 L1232.6 1199.3 L1236.2 1199.2 L1239.7 1199.3 L1243.2 1199.3 L1246.7 1199.3 L1250.2 1199.4 L1253.7 1199.5 L1257.3 1199.6 L1260.8 1199.7 L1264.3 1199.8 L1267.8 1200.0 L1271.2 1200.2 L1274.7 1200.4 L1278.2 1200.6 L1281.7 1200.9 L1285.2 1201.2 L1288.7 1201.5 L1292.1 1201.8 L1295.6 1202.2 L1299.1 1202.6 L1302.5 1203.0 L1306.0 1203.5 L1309.4 1204.0 L1312.9 1204.5 L1316.3 1205.1 L1319.8 1205.6 L1323.2 1206.3 L1326.6 1206.9 L1330.1 1207.6 L1333.5 1208.3 L1336.9 1209.1 L1340.3 1209.9 L1343.7 1210.7 L1347.1 1211.6 L1350.5 1212.5 L1353.9 1213.4 L1357.3 1214.4 L1360.6 1215.3 L1364.0 1216.4 L1367.4 1217.4 L1370.7 1218.5 L1374.1 1219.6 L1377.4 1220.7 L1380.8 1221.9 L1384.1 1223.1 L1387.4 1224.3 L1390.7 1225.5 L1394.0 1226.8 L1397.3 1228.1 L1400.6 1229.4 L1403.9 1230.8 L1407.1 1232.1 L1410.4 1233.5 L1413.6 1235.0 L1416.9 1236.4 L1420.1 1237.9 L1423.3 1239.4 L1426.5 1240.9 L1429.7 1242.4 L1432.9 1244.0 L1436.1 1245.6 L1439.2 1247.2 L1442.4 1248.8 L1445.5 1250.5 L1448.7 1252.1 L1451.8 1253.8 L1454.9 1255.5 L1458.0 1257.2 L1461.1 1259.0 L1464.2 1260.7 L1467.2 1262.5 L1470.3 1264.3 L1473.3 1266.1 L1476.3 1268.0 L1479.3 1269.8 L1482.3 1271.7 L1485.3 1273.6 L1488.3 1275.5 L1491.3 1277.4 L1494.2 1279.4 L1497.2 1281.3 L1500.1 1283.3 L1503.0 1285.3 L1505.9 1287.3 L1508.8 1289.3 L1511.6 1291.4 L1514.5 1293.4 L1517.4 1295.5 L1520.2 1297.6 L1523.0 1299.7 L1525.8 1301.9 L1528.6 1304.0 L1531.4 1306.2 L1534.1 1308.4 L1536.9 1310.6 L1539.6 1312.8 L1542.4 1315.0 L1545.1 1317.3 L1547.8 1319.5 L1550.4 1321.8 L1553.1 1324.1 L1555.8 1326.4 L1558.4 1328.8 L1561.0 1331.1 L1563.6 1333.5 L1566.2 1335.8 L1568.8 1338.2 L1571.4 1340.6 L1573.9 1343.0 L1576.5 1345.5 L1579.0 1347.9 L1581.5 1350.4 L1584.0 1352.9 L1586.5 1355.4 L1589.0 1357.9 L1591.4 1360.4 L1593.8 1363.0 L1596.3 1365.5 L1598.7 1368.1 L1601.0 1370.7 L1603.4 1373.3 L1605.8 1375.9 L1608.1 1378.5 L1610.4 1381.1 L1612.8 1383.8 L1615.1 1386.5 L1617.3 1389.2 L1619.6 1391.8 L1621.8 1394.6 L1624.1 1397.3 L1626.3 1400.0 L1628.5 1402.8 L1630.7 1405.5 L1632.8 1408.3 L1635.0 1411.1 L1637.1 1413.9 L1639.3 1416.7 L1641.4 1419.5 L1643.4 1422.4 L1645.5 1425.2 L1647.6 1428.1 L1649.6 1431.0 L1651.6 1433.9 L1653.6 1436.8 L1655.6 1439.7 L1657.6 1442.6 L1659.5 1445.6 L1661.5 1448.5 L1663.4 1451.5 L1665.3 1454.5 L1667.2 1457.4 L1669.0 1460.4 L1670.9 1463.4 L1672.7 1466.5 L1674.5 1469.5 L1676.3 1472.5 L1678.1 1475.6 L1679.8 1478.7 L1681.6 1481.7 L1683.3 1484.8 L1685.0 1487.9 L1686.7 1491.0 L1688.4 1494.2 L1690.0 1497.3 L1691.7 1500.4 L1693.3 1503.6 L1694.9 1506.8 L1696.5 1509.9 L1698.0 1513.1 L1699.6 1516.3 L1701.1 1519.5 L1702.6 1522.7 L1704.1 1526.0 L1705.5 1529.2 L1707.0 1532.4 L1708.4 1535.7 L1709.8 1538.9 L1711.2 1542.2 L1712.6 1545.5 L1713.9 1548.8 L1715.3 1552.1 L1716.6 1555.4 L1717.9 1558.7 L1719.1 1562.0 L1720.4 1565.4 L1721.6 1568.7 L1722.8 1572.1 L1724.0 1575.4 L1725.2 1578.8 L1726.3 1582.1 L1727.5 1585.5 L1728.6 1588.8 L1729.6 1592.2 L1730.7 1595.6 L1731.7 1598.9 L1732.7 1602.3 L1733.7 1605.7 L1734.6 1609.1 L1735.5 1612.4 L1736.4 1615.8 L1737.3 1619.1 L1738.1 1622.5 L1738.9 1625.9 L1739.7 1629.2 L1740.4 1632.6 L1741.1 1635.9 L1741.8 1639.2 L1742.5 1642.5 L1743.1 1645.9 L1743.7 1649.2 L1744.3 1652.5 L1744.8 1655.8 L1745.3 1659.0 L1745.7 1662.3 L1746.2 1665.6 L1746.6 1668.8 L1747.0 1672.1 L1747.3 1675.3 L1747.6 1678.6 L1747.9 1681.8 L1748.2 1685.0 L1748.5 1688.3 L1748.7 1691.5 L1748.9 1694.7 L1749.1 1697.9 L1749.3 1701.1 L1749.4 1704.3 L1749.6 1707.5 L1749.7 1710.8 L1749.8 1714.0 L1749.9 1717.2 L1750.0 1720.4 L1750.0 1723.7 L1750.0 1726.9 L1750.0 1730.2 L1750.0 1733.5 L1750.0 1736.8 L1750.0 1740.1 L1749.9 1743.4 L1749.8 1746.8 L1749.7 1750.2 L1749.6 1753.6 L1749.5 1757.0 L1749.3 1760.5 L1749.1 1764.0 L1748.9 1767.6 L1748.7 1771.1 L1748.4 1774.7 L1748.1 1778.3 L1747.8 1781.8 L1747.5 1785.4 L1747.1 1789.0 L1746.6 1792.5 L1746.1 1796.0 L1745.6 1799.6 L1745.1 1803.1 L1744.5 1806.6 L1743.8 1810.1 L1743.1 1813.5 L1742.4 1817.0 L1741.7 1820.4 L1740.9 1823.8 L1740.0 1827.3 L1739.2 1830.7 L1738.3 1834.1 L1737.3 1837.4 L1736.4 1840.8 L1735.4 1844.2 L1734.3 1847.5 L1733.3 1850.8 L1732.2 1854.2 L1731.0 1857.5 L1729.9 1860.8 L1728.7 1864.1 L1727.5 1867.3 L1726.2 1870.6 L1724.9 1873.9 L1723.6 1877.1 L1722.3 1880.4 L1720.9 1883.6 L1719.5 1886.8 L1718.1 1890.0 L1716.7 1893.2 L1715.2 1896.4 L1713.8 1899.6 L1712.2 1902.8 L1710.7 1905.9 L1709.2 1909.1 L1707.6 1912.2 L1706.0 1915.4 L1704.4 1918.5 L1702.8 1921.6 L1701.1 1924.7 L1699.4 1927.8 L1697.8 1930.9 L1696.1 1934.0 L1694.3 1937.1 L1692.6 1940.2 L1690.8 1943.3 L1689.1 1946.3 L1687.3 1949.4 L1685.5 1952.4 L1683.7 1955.5 L1681.9 1958.5 L1680.0 1961.5 L1678.2 1964.6 L1676.3 1967.6 L1674.5 1970.6 L1672.6 1973.6 L1670.7 1976.6 L1668.8 1979.6 L1666.9 1982.6 L1665.0 1985.6 L1663.1 1988.6 L1661.2 1991.6 L1659.3 1994.6 L1657.3 1997.6 L1655.4 2000.6 L1653.5 2003.5 L1651.6 2006.5 L1649.7 2009.5 L1647.8 2012.5 L1645.9 2015.5 L1644.0 2018.4 L1642.1 2021.4 L1640.2 2024.4 L1638.3 2027.4 L1636.5 2030.4 L1634.6 2033.4 L1632.8 2036.4 L1631.0 2039.5 L1629.2 2042.5 L1627.4 2045.5 L1625.7 2048.6 L1624.0 2051.6 L1622.3 2054.7 L1620.6 2057.7 L1618.9 2060.8 L1617.3 2063.9 L1615.7 2067.0 L1614.1 2070.2 L1612.6 2073.3 L1611.1 2076.4 L1609.6 2079.6 L1608.2 2082.8 L1606.8 2086.0 L1605.4 2089.2 L1604.1 2092.4 L1602.8 2095.7 L1601.6 2098.9 L1600.4 2102.2 L1599.3 2105.5 L1598.2 2108.9 L1597.1 2112.2 L1596.1 2115.6 L1595.2 2119.0 L1594.2 2122.4 L1593.4 2125.8 L1592.6 2129.3 L1591.9 2132.8 L1591.2 2136.3 L1590.5 2139.8 L1590.0 2143.4 L1589.5 2147.0 L1589.0 2150.6 L1588.6 2154.3 L1588.3 2157.9"/>
<path d="M1647.9 1428.0 L1648.2 1431.0 L1648.5 1434.1 L1648.8 1437.2 L1649.0 1440.2 L1649.1 1443.2 L1649.2 1446.2 L1649.2 1449.2 L1649.2 1452.2 L1649.1 1455.2 L1649.0 1458.1 L1648.8 1461.0 L1648.6 1464.0 L1648.3 1466.9 L1648.0 1469.8 L1647.6 1472.7 L1647.2 1475.6 L1646.8 1478.4 L1646.3 1481.3 L1645.8 1484.1 L1645.2 1487.0 L1644.6 1489.8 L1644.0 1492.6 L1643.3 1495.4 L1642.6 1498.2 L1641.9 1501.0 L1641.1 1503.8 L1640.3 1506.6 L1639.4 1509.3 L1638.6 1512.1 L1637.7 1514.9 L1636.8 1517.6 L1635.8 1520.3 L1634.8 1523.1 L1633.8 1525.8 L1632.8 1528.5 L1631.8 1531.2 L1630.7 1533.9 L1629.6 1536.6 L1628.5 1539.3 L1627.4 1542.0 L1626.3 1544.7 L1625.1 1547.4 L1624.0 1550.1 L1622.8 1552.8 L1621.6 1555.4 L1620.4 1558.1 L1619.2 1560.8 L1617.9 1563.5 L1616.7 1566.1 L1615.5 1568.8 L1614.2 1571.5 L1613.0 1574.1 L1611.7 1576.8 L1610.5 1579.5 L1609.2 1582.1 L1607.9 1584.8 L1606.7 1587.4 L1605.4 1590.1 L1604.1 1592.8 L1602.9 1595.4 L1601.6 1598.1 L1600.4 1600.8 L1599.1 1603.5 L1597.9 1606.1 L1596.7 1608.8 L1595.4 1611.5 L1594.2 1614.2 L1593.0 1616.9 L1591.8 1619.6 L1590.6 1622.2 L1589.4 1624.9 L1588.3 1627.6 L1587.1 1630.3 L1585.9 1633.0 L1584.8 1635.7 L1583.7 1638.5 L1582.5 1641.2 L1581.4 1643.9 L1580.3 1646.6 L1579.2 1649.3 L1578.1 1652.0 L1577.0 1654.8 L1575.9 1657.5 L1574.9 1660.2 L1573.8 1663.0 L1572.8 1665.7 L1571.7 1668.5 L1570.7 1671.2 L1569.7 1674.0 L1568.7 1676.7 L1567.7 1679.5 L1566.7 1682.2 L1565.7 1685.0 L1564.7 1687.8 L1563.8 1690.5 L1562.9 1693.3 L1561.9 1696.1 L1561.0 1698.9 L1560.1 1701.7 L1559.2 1704.4 L1558.3 1707.2 L1557.4 1710.0 L1556.6 1712.8 L1555.7 1715.6 L1554.9 1718.5 L1554.0 1721.3 L1553.2 1724.1 L1552.4 1726.9 L1551.6 1729.7 L1550.9 1732.6 L1550.1 1735.4 L1549.3 1738.2 L1548.6 1741.1 L1547.9 1743.9 L1547.1 1746.7 L1546.4 1749.6 L1545.8 1752.5 L1545.1 1755.3 L1544.4 1758.2 L1543.8 1761.0 L1543.1 1763.9 L1542.5 1766.8 L1541.9 1769.6 L1541.3 1772.5 L1540.7 1775.4 L1540.1 1778.3 L1539.5 1781.2 L1539.0 1784.1 L1538.4 1786.9 L1537.9 1789.8 L1537.4 1792.7 L1536.9 1795.6 L1536.4 1798.5 L1535.9 1801.4 L1535.4 1804.3 L1535.0 1807.2 L1534.5 1810.1 L1534.1 1813.1 L1533.7 1816.0 L1533.3 1818.9 L1532.9 1821.8 L1532.5 1824.7 L1532.2 1827.6 L1531.8 1830.6 L1531.5 1833.5 L1531.1 1836.4 L1530.8 1839.3 L1530.5 1842.3 L1530.2 1845.2 L1529.9 1848.1 L1529.7 1851.0 L1529.4 1854.0 L1529.2 1856.9 L1528.9 1859.8 L1528.7 1862.8 L1528.5 1865.7 L1528.3 1868.6 L1528.2 1871.6 L1528.0 1874.5 L1527.8 1877.5 L1527.7 1880.4 L1527.6 1883.3 L1527.5 1886.3 L1527.4 1889.2 L1527.3 1892.1 L1527.2 1895.1 L1527.1 1898.0 L1527.1 1901.0 L1527.0 1903.9 L1527.0 1906.8 L1527.0 1909.8 L1527.0 1912.7 L1527.0 1915.7 L1527.0 1918.6 L1527.0 1921.5 L1527.1 1924.5 L1527.2 1927.4 L1527.2 1930.3 L1527.3 1933.3 L1527.4 1936.2 L1527.5 1939.1 L1527.6 1942.1 L1527.8 1945.0 L1527.9 1947.9 L1528.1 1950.8 L1528.3 1953.8 L1528.5 1956.7 L1528.7 1959.6 L1528.9 1962.5 L1529.1 1965.5 L1529.3 1968.4 L1529.6 1971.3 L1529.8 1974.2 L1530.1 1977.1 L1530.4 1980.0 L1530.7 1982.9 L1531.0 1985.9 L1531.3 1988.8 L1531.7 1991.7"/>
<path d="M1465.3 1947.7 L1465.7 1952.8 L1466.1 1957.9 L1466.5 1962.9 L1467.0 1967.9 L1467.4 1972.9 L1467.9 1977.9 L1468.4 1982.8 L1468.8 1987.7 L1469.3 1992.7 L1469.8 1997.6 L1470.2 2002.5 L1470.7 2007.3 L1471.2 2012.2 L1471.7 2017.1 L1472.1 2022.0 L1472.6 2026.9 L1473.1 2031.7 L1473.5 2036.6 L1474.0 2041.5 L1474.4 2046.4 L1474.8 2051.3 L1475.2 2056.3 L1475.6 2061.2 L1476.0 2066.2 L1476.4 2071.2 L1476.8 2076.2 L1477.2 2081.2 L1477.6 2086.2 L1478.0 2091.3 L1478.4 2096.3 L1478.9 2101.3 L1479.3 2106.4 L1479.8 2111.4 L1480.3 2116.5 L1480.8 2121.5 L1481.3 2126.5 L1481.9 2131.6 L1482.5 2136.6 L1483.2 2141.6 L1483.9 2146.6 L1484.6 2151.6 L1485.4 2156.5 L1486.3 2161.5 L1487.2 2166.4 L1488.2 2171.3 L1489.2 2176.2 L1490.3 2181.1 L1491.5 2185.9 L1492.7 2190.7 L1494.0 2195.5 L1495.4 2200.2 L1496.9 2204.9 L1498.4 2209.6 L1500.0 2214.3 L1501.7 2218.9 L1503.4 2223.5 L1505.2 2228.1 L1507.0 2232.7 L1508.9 2237.2 L1510.9 2241.7 L1512.9 2246.2 L1515.0 2250.7 L1517.1 2255.1 L1519.3 2259.6 L1521.5 2264.0 L1523.8 2268.4 L1526.1 2272.7 L1528.4 2277.1 L1530.8 2281.4 L1533.2 2285.8 L1535.7 2290.1 L1538.2 2294.4 L1540.7 2298.6 L1543.3 2302.9 L1545.9 2307.2 L1548.5 2311.4 L1551.1 2315.7 L1553.8 2319.9 L1556.5 2324.1 L1559.2 2328.3 L1561.9 2332.5 L1564.6 2336.7 L1567.3 2340.9 L1570.1 2345.1 L1572.9 2349.3 L1575.6 2353.4 L1578.4 2357.6 L1581.2 2361.8 L1584.0 2366.0 L1586.7 2370.1 L1589.5 2374.3 L1592.3 2378.5 L1595.1 2382.6 L1597.8 2386.8 L1600.6 2391.0 L1603.3 2395.2 L1606.0 2399.3 L1608.7 2403.5 L1611.4 2407.7 L1614.0 2412.0 L1616.6 2416.2 L1619.2 2420.5 L1621.7 2424.7 L1624.2 2429.0 L1626.6 2433.4 L1629.0 2437.7 L1631.3 2442.1 L1633.5 2446.5 L1635.7 2450.9 L1637.8 2455.4 L1639.9 2459.9 L1641.9 2464.5 L1643.8 2469.0 L1645.6 2473.7 L1647.3 2478.3 L1649.0 2483.0 L1650.6 2487.7 L1652.1 2492.4 L1653.6 2497.2 L1655.0 2502.0 L1656.3 2506.8 L1657.5 2511.6 L1658.7 2516.5 L1659.8 2521.3 L1660.8 2526.2 L1661.7 2531.1 L1662.6 2536.0 L1663.4 2541.0 L1664.1 2545.9 L1664.8 2550.9 L1665.3 2555.8 L1665.8 2560.8 L1666.3 2565.8 L1666.6 2570.8 L1666.9 2575.7 L1667.2 2580.7 L1667.3 2585.7 L1667.4 2590.7 L1667.4 2595.7 L1667.3 2600.7 L1667.2 2605.6 L1667.0 2610.6 L1666.7 2615.6 L1666.3 2620.5 L1665.9 2625.5 L1665.4 2630.4 L1664.9 2635.3 L1664.3 2640.3 L1663.6 2645.2 L1662.8 2650.1 L1662.0 2655.0 L1661.1 2659.9 L1660.2 2664.7 L1659.2 2669.6 L1658.1 2674.5 L1657.0 2679.3 L1655.8 2684.1 L1654.5 2688.9 L1653.2 2693.7 L1651.8 2698.5 L1650.4 2703.3 L1648.9 2708.0 L1647.3 2712.7 L1645.7 2717.5 L1644.0 2722.2 L1642.3 2726.8 L1640.5 2731.5 L1638.7 2736.1 L1636.8 2740.8 L1634.8 2745.3 L1632.8 2749.9 L1630.8 2754.5 L1628.7 2759.0 L1626.5 2763.5 L1624.3 2768.0 L1622.0 2772.5 L1619.7 2776.9 L1617.3 2781.3 L1614.9 2785.7 L1612.4 2790.1 L1609.9 2794.4 L1607.4 2798.7 L1604.7 2803.0 L1602.1 2807.2 L1599.4 2811.5 L1596.6 2815.7 L1593.8 2819.8 L1591.0 2824.0 L1588.1 2828.1 L1585.2 2832.1 L1582.2 2836.2 L1579.2 2840.2 L1576.1 2844.1 L1573.0 2848.1 L1569.9 2852.0 L1566.7 2855.8 L1563.5 2859.7 L1560.2 2863.5 L1556.9 2867.2 L1553.6 2870.9 L1550.2 2874.6 L1546.8 2878.3 L1543.4 2881.9 L1539.9 2885.5 L1536.4 2889.0 L1532.8 2892.5 L1529.2 2895.9 L1525.6 2899.3 L1521.9 2902.7 L1518.2 2906.0 L1514.5 2909.3 L1510.7 2912.5 L1506.9 2915.7 L1503.1 2918.9 L1499.3 2922.0 L1495.4 2925.1 L1491.4 2928.1 L1487.5 2931.1 L1483.5 2934.0 L1479.5 2936.9 L1475.4 2939.7 L1471.3 2942.5 L1467.2 2945.3 L1463.1 2948.0 L1458.9 2950.7 L1454.7 2953.3 L1450.5 2955.8 L1446.2 2958.3 L1441.9 2960.8 L1437.6 2963.2 L1433.2 2965.6 L1428.9 2967.9 L1424.5 2970.2 L1420.0 2972.4 L1415.6 2974.6 L1411.1 2976.7 L1406.6 2978.7 L1402.1 2980.7 L1397.5 2982.7 L1392.9 2984.6 L1388.3 2986.5 L1383.7 2988.3 L1379.1 2990.0 L1374.4 2991.7 L1369.7 2993.3 L1365.0 2994.9 L1360.2 2996.4 L1355.5 2997.9 L1350.7 2999.3 L1345.9 3000.7 L1341.0 3002.0 L1336.2 3003.2 L1331.4 3004.4 L1326.5 3005.6 L1321.6 3006.7 L1316.7 3007.7 L1311.8 3008.7 L1306.9 3009.6 L1301.9 3010.4 L1297.0 3011.2 L1292.0 3012.0 L1287.1 3012.7 L1282.1 3013.3 L1277.1 3013.9 L1272.1 3014.4 L1267.1 3014.9 L1262.1 3015.3 L1257.1 3015.6 L1252.1 3015.9 L1247.1 3016.2 L1242.1 3016.4 L1237.1 3016.5 L1232.1 3016.6 L1227.1 3016.6 L1222.1 3016.5 L1217.1 3016.4 L1212.1 3016.2 L1207.0 3016.0 L1202.0 3015.7 L1197.1 3015.4 L1192.1 3015.0 L1187.1 3014.6 L1182.1 3014.0 L1177.1 3013.5 L1172.2 3012.8 L1167.2 3012.2 L1162.3 3011.4 L1157.4 3010.6 L1152.5 3009.7 L1147.6 3008.8 L1142.7 3007.8 L1137.8 3006.8 L1132.9 3005.7 L1128.1 3004.5 L1123.3 3003.3 L1118.5 3002.0 L1113.7 3000.7 L1108.9 2999.3 L1104.1 2997.9 L1099.4 2996.4 L1094.6 2994.9 L1089.9 2993.3 L1085.2 2991.6 L1080.6 2989.9 L1075.9 2988.1 L1071.3 2986.3 L1066.6 2984.5 L1062.0 2982.6 L1057.5 2980.6 L1052.9 2978.6 L1048.4 2976.5 L1043.9 2974.4 L1039.4 2972.3 L1034.9 2970.0 L1030.5 2967.8 L1026.0 2965.5 L1021.6 2963.1 L1017.3 2960.7 L1012.9 2958.3 L1008.6 2955.8 L1004.3 2953.3 L1000.0 2950.7 L995.8 2948.1 L991.5 2945.4 L987.3 2942.7 L983.2 2940.0 L979.0 2937.2 L974.9 2934.4 L970.8 2931.5 L966.8 2928.6 L962.7 2925.6 L958.7 2922.6 L954.8 2919.6 L950.8 2916.5 L946.9 2913.4 L943.1 2910.3 L939.2 2907.1 L935.4 2903.9 L931.6 2900.6 L927.9 2897.3 L924.1 2894.0 L920.5 2890.7 L916.8 2887.3 L913.2 2883.8 L909.6 2880.4 L906.1 2876.9 L902.6 2873.4 L899.1 2869.8 L895.6 2866.2 L892.2 2862.6 L888.9 2858.9 L885.5 2855.3 L882.2 2851.6 L879.0 2847.8 L875.8 2844.0 L872.6 2840.2 L869.4 2836.4 L866.3 2832.6 L863.2 2828.7 L860.2 2824.8 L857.2 2820.8 L854.2 2816.9 L851.3 2812.9 L848.3 2808.9 L845.5 2804.8 L842.6 2800.8 L839.8 2796.7 L837.1 2792.6 L834.3 2788.4 L831.6 2784.3 L829.0 2780.1 L826.3 2775.9 L823.7 2771.7 L821.2 2767.4 L818.6 2763.1 L816.1 2758.8 L813.7 2754.5 L811.2 2750.2 L808.8 2745.8 L806.5 2741.5 L804.1 2737.1 L801.8 2732.7 L799.6 2728.2 L797.3 2723.8 L795.1 2719.3 L793.0 2714.8 L790.8 2710.3 L788.7 2705.8 L786.6 2701.3 L784.6 2696.7 L782.6 2692.1 L780.6 2687.6 L778.7 2683.0 L776.7 2678.4 L774.9 2673.7 L773.0 2669.1 L771.2 2664.4 L769.4 2659.8 L767.6 2655.1 L765.9 2650.4 L764.2 2645.7 L762.5 2641.0 L760.9 2636.2 L759.2 2631.5 L757.7 2626.8 L756.1 2622.0 L754.6 2617.2 L753.1 2612.5 L751.6 2607.7 L750.2 2602.9 L748.8 2598.1 L747.4 2593.3 L746.1 2588.4 L744.7 2583.6 L743.4 2578.8 L742.2 2573.9 L740.9 2569.1 L739.7 2564.2 L738.6 2559.4 L737.4 2554.5 L736.3 2549.7 L735.2 2544.8 L734.1 2539.9 L733.1 2535.0 L732.1 2530.1 L731.1 2525.3 L730.1 2520.4 L729.2 2515.5 L728.3 2510.6 L727.4 2505.7 L726.6 2500.8 L725.7 2495.9 L724.9 2491.0 L724.2 2486.1 L723.4 2481.2 L722.7 2476.3 L722.0 2471.3 L721.3 2466.4 L720.6 2461.5 L720.0 2456.6 L719.4 2451.7 L718.8 2446.7 L718.2 2441.8 L717.7 2436.9 L717.2 2431.9 L716.7 2427.0 L716.2 2422.1 L715.8 2417.1 L715.3 2412.2 L714.9 2407.2 L714.5 2402.3 L714.1 2397.3 L713.8 2392.4 L713.5 2387.4 L713.1 2382.5 L712.8 2377.5 L712.6 2372.6 L712.3 2367.6 L712.1 2362.6 L711.8 2357.7 L711.6 2352.7 L711.5 2347.8 L711.3 2342.8 L711.1 2337.8 L711.0 2332.8 L710.9 2327.9 L710.8 2322.9 L710.7 2317.9 L710.6 2313.0 L710.6 2308.0 L710.5 2303.0 L710.5 2298.0 L710.5 2293.0 L710.5 2288.1 L710.5 2283.1 L710.5 2278.1 L710.6 2273.1 L710.6 2268.1 L710.7 2263.2 L710.8 2258.2 L710.8 2253.2 L711.0 2248.2 L711.1 2243.2 L711.2 2238.2 L711.3 2233.2 L711.5 2228.3 L711.6 2223.3 L711.8 2218.3 L712.0 2213.3 L712.2 2208.3 L712.4 2203.3 L712.6 2198.3 L712.8 2193.3 L713.0 2188.3 L713.3 2183.3 L713.5 2178.4 L713.8 2173.4 L714.0 2168.4 L714.3 2163.4 L714.6 2158.4 L714.8 2153.4 L715.1 2148.4 L715.4 2143.4 L715.7 2138.4 L716.0 2133.5 L716.3 2128.5 L716.7 2123.5 L717.0 2118.5 L717.3 2113.5 L717.6 2108.5 L718.0 2103.5 L718.3 2098.6 L718.6 2093.6 L719.0 2088.6 L719.3 2083.6 L719.7 2078.6 L720.0 2073.6 L720.4 2068.7 L720.8 2063.7 L721.1 2058.7 L721.5 2053.7 L721.9 2048.8 L722.3 2043.8 L722.7 2038.8 L723.1 2033.8 L723.5 2028.9 L723.9 2023.9 L724.3 2018.9 L724.7 2014.0 L725.2 2009.0 L725.6 2004.0 L726.0 1999.1 L726.5 1994.1 L726.9 1989.1 L727.4 1984.2 L727.9 1979.2 L728.4 1974.3 L728.8 1969.3 L729.3 1964.3 L729.8 1959.4 L730.4 1954.4 L730.9 1949.5 L731.4 1944.5 L731.9 1939.6 L732.5 1934.7 L733.1 1929.7 L733.6 1924.8 L734.2 1919.8 L734.8 1914.9 L735.4 1910.0 L736.0 1905.0 L736.6 1900.1 L737.2 1895.2 L737.9 1890.2 L738.5 1885.3 L739.2 1880.4 L739.8 1875.5 L740.5 1870.5 L741.2 1865.6 L741.9 1860.7 L742.6 1855.8 L743.3 1850.9 L744.1 1846.0 L744.8 1841.1 L745.6 1836.2 L746.4 1831.2 L747.2 1826.3 L748.0 1821.4 L748.8 1816.6 L749.6 1811.7 L750.5 1806.8 L751.3 1801.9 L752.2 1797.0 L753.1 1792.1 L754.0 1787.2 L754.9 1782.3 L755.8 1777.5 L756.7 1772.6 L757.7 1767.7 L758.7 1762.9 L759.6 1758.0 L760.6 1753.1 L761.7 1748.3 L762.7 1743.4 L763.7 1738.6 L764.8 1733.7 L765.9 1728.9 L767.0 1724.0 L768.1 1719.2 L769.2 1714.3 L770.4 1709.5 L771.5 1704.7 L772.7 1699.8 L773.9 1695.0 L775.1 1690.2 L776.3 1685.3 L777.6 1680.5 L778.8 1675.7 L780.1 1670.9 L781.4 1666.1 L782.8 1661.3 L784.1 1656.5 L785.5 1651.7 L786.8 1646.9 L788.2 1642.1 L789.6 1637.3 L791.1 1632.5 L792.5 1627.7 L794.0 1623.0 L795.5 1618.2 L797.0 1613.4 L798.6 1608.7 L800.1 1603.9 L801.7 1599.2 L803.3 1594.4 L804.9 1589.7 L806.6 1585.0 L808.3 1580.2 L810.0 1575.5 L811.7 1570.8 L813.4 1566.1 L815.2 1561.5 L817.0 1556.8 L818.8 1552.1 L820.7 1547.5 L822.5 1542.9 L824.4 1538.2 L826.4 1533.6 L828.3 1529.0 L830.3 1524.4 L832.3 1519.9 L834.4 1515.3 L836.4 1510.8 L838.5 1506.3 L840.7 1501.7 L842.8 1497.3 L845.0 1492.8 L847.2 1488.3 L849.5 1483.9 L851.7 1479.5 L854.1 1475.1 L856.4 1470.7 L858.8 1466.3 L861.2 1462.0 L863.7 1457.7 L866.2 1453.4 L868.7 1449.1 L871.3 1444.9 L873.9 1440.7 L876.5 1436.5 L879.2 1432.3 L882.0 1428.2 L884.8 1424.1 L887.6 1420.1 L890.5 1416.1 L893.4 1412.1 L896.4 1408.1 L899.4 1404.2 L902.5 1400.4 L905.6 1396.5 L908.8 1392.7 L912.0 1389.0 L915.3 1385.3 L918.6 1381.6 L922.0 1378.0 L925.5 1374.4 L929.0 1370.9 L932.5 1367.4 L936.1 1364.0 L939.8 1360.6 L943.5 1357.3 L947.2 1354.0 L951.0 1350.8 L954.9 1347.6 L958.8 1344.5 L962.7 1341.4 L966.7 1338.5 L970.8 1335.5 L974.8 1332.7 L979.0 1329.9 L983.1 1327.1 L987.3 1324.5 L991.6 1321.9 L995.9 1319.3 L1000.2 1316.9 L1004.6 1314.5 L1009.0 1312.2 L1013.4 1309.9 L1017.9 1307.7 L1022.4 1305.7 L1026.9 1303.6 L1031.5 1301.7 L1036.1 1299.9 L1040.8 1298.1 L1045.4 1296.4 L1050.1 1294.8 L1054.9 1293.3 L1059.6 1291.8 L1064.4 1290.5 L1069.2 1289.2 L1074.1 1288.1 L1078.9 1287.0 L1083.8 1285.9 L1088.7 1285.0 L1093.6 1284.1 L1098.6 1283.3 L1103.5 1282.5 L1108.5 1281.8 L1113.5 1281.2 L1118.4 1280.6 L1123.4 1280.1 L1128.4 1279.6 L1133.4 1279.2 L1138.4 1278.8 L1143.4 1278.5 L1148.4 1278.2 L1153.4 1277.9 L1158.4 1277.7 L1163.4 1277.5 L1168.3 1277.3 L1173.3 1277.1 L1178.3 1277.0 L1183.2 1276.9 L1188.1 1276.8 L1193.1 1276.8 L1198.0 1276.7 L1202.9 1276.7 L1207.8 1276.7 L1212.6 1276.8 L1217.5 1276.8 L1222.4 1276.9 L1227.3 1277.1 L1232.2 1277.3 L1237.1 1277.5 L1242.0 1277.8 L1246.9 1278.1 L1251.8 1278.5 L1256.7 1278.9 L1261.7 1279.4 L1266.6 1279.9 L1271.6 1280.5 L1276.5 1281.2 L1281.5 1281.9 L1286.6 1282.7 L1291.6 1283.5 L1296.6 1284.5 L1301.6 1285.5 L1306.7 1286.5 L1311.7 1287.7 L1316.6 1288.9 L1321.6 1290.3 L1326.5 1291.7 L1331.4 1293.2 L1336.3 1294.8 L1341.1 1296.5 L1345.8 1298.3 L1350.5 1300.2 L1355.1 1302.3 L1359.7 1304.4 L1364.2 1306.7 L1368.6 1309.0 L1372.9 1311.5 L1377.1 1314.2 L1381.2 1316.9 L1385.2 1319.8 L1389.1 1322.8 L1392.8 1326.0 L1396.5 1329.3 L1400.0 1332.7 L1403.4 1336.3 L1406.6 1340.0 L1409.7 1343.9 L1412.5 1347.9 L1415.2 1352.0 L1417.7 1356.2 L1419.9 1360.6 L1421.8 1365.0 L1423.5 1369.5 L1424.8 1374.1 L1425.9 1378.8 L1426.6 1383.6 L1426.9 1388.4 L1427.0 1393.3 L1426.7 1398.3 L1426.2 1403.2 L1425.4 1408.1 L1424.5 1413.1 L1423.4 1418.0 L1422.1 1422.9 L1420.8 1427.7 L1419.4 1432.5 L1417.8 1437.3 L1416.2 1442.1 L1414.6 1446.8 L1412.8 1451.5 L1411.0 1456.2 L1409.2 1460.9 L1407.4 1465.6 L1405.5 1470.3 L1403.7 1475.0 L1401.8 1479.7 L1400.0 1484.4 L1398.2 1489.1 L1396.5 1493.8 L1394.8 1498.5 L1393.2 1503.2 L1391.6 1508.0 L1390.1 1512.7 L1388.7 1517.5 L1387.3 1522.3 L1386.0 1527.1 L1384.8 1532.0 L1383.6 1536.8 L1382.5 1541.7 L1381.5 1546.5 L1380.5 1551.4 L1379.6 1556.3 L1378.8 1561.2 L1378.0 1566.1 L1377.2 1571.0 L1376.6 1575.9 L1376.0 1580.9 L1375.4 1585.8 L1374.9 1590.7 L1374.5 1595.7 L1374.1 1600.7 L1373.8 1605.6 L1373.5 1610.6 L1373.3 1615.6 L1373.2 1620.5 L1373.1 1625.5 L1373.0 1630.5 L1373.0 1635.5 L1373.1 1640.4 L1373.2 1645.4 L1373.4 1650.4 L1373.6 1655.4 L1373.9 1660.4 L1374.2 1665.3 L1374.6 1670.3 L1375.1 1675.3 L1375.5 1680.3 L1376.1 1685.2 L1376.6 1690.2 L1377.3 1695.1 L1377.9 1700.1 L1378.7 1705.0 L1379.4 1709.9 L1380.2 1714.9 L1381.1 1719.8 L1382.0 1724.7 L1382.9 1729.6 L1383.9 1734.5 L1385.0 1739.4 L1386.0 1744.2 L1387.2 1749.1 L1388.3 1753.9 L1389.5 1758.8 L1390.8 1763.6 L1392.1 1768.4 L1393.4 1773.2 L1394.7 1778.0 L1396.1 1782.7 L1397.6 1787.5 L1399.1 1792.2 L1400.6 1797.0 L1402.1 1801.7 L1403.7 1806.4 L1405.3 1811.1 L1407.0 1815.8 L1408.6 1820.4 L1410.4 1825.1 L1412.1 1829.7 L1413.9 1834.4 L1415.7 1839.0 L1417.5 1843.6 L1419.4 1848.2 L1421.2 1852.8 L1423.2 1857.4 L1425.1 1862.0 L1427.1 1866.6 L1429.0 1871.1 L1431.1 1875.7 L1433.1 1880.2 L1435.1 1884.8 L1437.2 1889.3 L1439.3 1893.8 L1441.4 1898.3 L1443.6 1902.8 L1445.7 1907.3 L1447.9 1911.8 L1450.1 1916.3 L1452.3 1920.8 L1454.5 1925.2 L1456.7 1929.7 L1459.0 1934.1 L1461.3 1938.6 L1463.5 1943.0 L1465.8 1947.5"/>
<path d="M1741.6 1639.0 L1740.8 1641.1 L1740.0 1643.2 L1739.2 1645.2 L1738.4 1647.3 L1737.5 1649.4 L1736.7 1651.4 L1735.8 1653.5 L1734.9 1655.5 L1734.0 1657.5 L1733.1 1659.6 L1732.1 1661.6 L1731.2 1663.6 L1730.2 1665.6 L1729.3 1667.6 L1728.3 1669.5 L1727.3 1671.5 L1726.3 1673.5 L1725.3 1675.4 L1724.2 1677.4 L1723.2 1679.3 L1722.1 1681.3 L1721.0 1683.2 L1720.0 1685.1 L1718.9 1687.0 L1717.8 1688.9 L1716.6 1690.8 L1715.5 1692.7 L1714.4 1694.6 L1713.2 1696.5 L1712.0 1698.3 L1710.8 1700.2 L1709.6 1702.1 L1708.4 1703.9 L1707.2 1705.7 L1706.0 1707.6 L1704.8 1709.4 L1703.5 1711.2 L1702.3 1713.0 L1701.0 1714.8 L1699.7 1716.6 L1698.4 1718.4 L1697.1 1720.1 L1695.8 1721.9 L1694.5 1723.7 L1693.1 1725.4 L1691.8 1727.1 L1690.4 1728.9 L1689.1 1730.6 L1687.7 1732.3 L1686.3 1734.0 L1684.9 1735.7 L1683.5 1737.4 L1682.1 1739.1 L1680.7 1740.8 L1679.2 1742.5 L1677.8 1744.2 L1676.4 1745.8 L1674.9 1747.5 L1673.4 1749.1 L1672.0 1750.7 L1670.5 1752.4 L1669.0 1754.0 L1667.5 1755.6 L1666.0 1757.2 L1664.5 1758.8 L1662.9 1760.4 L1661.4 1762.0 L1659.9 1763.6 L1658.4 1765.2 L1656.9 1766.8 L1655.3 1768.4 L1653.8 1770.0 L1652.3 1771.6 L1650.8 1773.2 L1649.3 1774.8 L1647.8 1776.4 L1646.2 1778.0 L1644.7 1779.6 L1643.3 1781.2 L1641.8 1782.8 L1640.3 1784.4 L1638.8 1786.1 L1637.4 1787.7 L1635.9 1789.4 L1634.5 1791.0 L1633.1 1792.7 L1631.7 1794.4 L1630.3 1796.1 L1628.9 1797.8 L1627.6 1799.5 L1626.2 1801.2 L1624.9 1803.0 L1623.6 1804.7 L1622.3 1806.5 L1621.0 1808.3 L1619.7 1810.1 L1618.5 1811.9 L1617.3 1813.7 L1616.1 1815.5 L1614.9 1817.4 L1613.7 1819.2 L1612.5 1821.1 L1611.4 1823.0 L1610.3 1824.9 L1609.2 1826.8 L1608.1 1828.7 L1607.0 1830.6 L1605.9 1832.6 L1604.9 1834.5 L1603.9 1836.5 L1602.9 1838.5 L1601.9 1840.5 L1600.9 1842.5 L1600.0 1844.5 L1599.0 1846.5 L1598.1 1848.5 L1597.2 1850.6 L1596.3 1852.6 L1595.4 1854.6 L1594.5 1856.7 L1593.7 1858.7 L1592.9 1860.8 L1592.0 1862.9 L1591.2 1865.0 L1590.4 1867.0 L1589.7 1869.1 L1588.9 1871.2 L1588.1 1873.3 L1587.4 1875.4 L1586.7 1877.5 L1586.0 1879.6 L1585.3 1881.7 L1584.6 1883.8 L1583.9 1886.0 L1583.2 1888.1 L1582.6 1890.2 L1582.0 1892.3 L1581.3 1894.5 L1580.7 1896.6 L1580.1 1898.7 L1579.6 1900.8 L1579.0 1903.0 L1578.4 1905.1 L1577.9 1907.3 L1577.4 1909.4 L1576.8 1911.5 L1576.3 1913.7 L1575.8 1915.8 L1575.4 1918.0 L1574.9 1920.2 L1574.4 1922.3 L1574.0 1924.5 L1573.6 1926.6 L1573.1 1928.8 L1572.7 1931.0 L1572.3 1933.1 L1572.0 1935.3 L1571.6 1937.5 L1571.2 1939.6 L1570.9 1941.8 L1570.5 1944.0 L1570.2 1946.2 L1569.9 1948.3 L1569.6 1950.5 L1569.3 1952.7 L1569.0 1954.9 L1568.8 1957.1 L1568.5 1959.3 L1568.3 1961.4 L1568.1 1963.6 L1567.8 1965.8 L1567.6 1968.0 L1567.4 1970.2 L1567.2 1972.4 L1567.1 1974.6 L1566.9 1976.8 L1566.8 1979.0 L1566.6 1981.2 L1566.5 1983.4 L1566.4 1985.6 L1566.3 1987.8 L1566.2 1990.0 L1566.1 1992.2 L1566.0 1994.4 L1566.0 1996.6 L1565.9 1998.8 L1565.9 2001.0 L1565.8 2003.2 L1565.8 2005.4 L1565.8 2007.6 L1565.8 2009.8 L1565.8 2012.0 L1565.8 2014.2 L1565.9 2016.4 L1565.9 2018.6 L1566.0 2020.8 L1566.0 2023.0 L1566.1 2025.2 L1566.2 2027.5 L1566.3 2029.7 L1566.4 2031.9 L1566.5 2034.1 L1566.6 2036.3 L1566.8 2038.5 L1566.9 2040.7 L1567.1 2042.9 L1567.3 2045.1 L1567.4 2047.3 L1567.6 2049.5 L1567.8 2051.7 L1568.0 2053.9 L1568.2 2056.1 L1568.5 2058.3 L1568.7 2060.5 L1568.9 2062.7 L1569.2 2064.9 L1569.5 2067.1 L1569.7 2069.3 L1570.0 2071.5 L1570.3 2073.7 L1570.6 2075.9 L1570.9 2078.1 L1571.2 2080.2 L1571.6 2082.4 L1571.9 2084.6 L1572.2 2086.8 L1572.6 2089.0 L1573.0 2091.2 L1573.3 2093.4 L1573.7 2095.5 L1574.1 2097.7 L1574.5 2099.9 L1574.9 2102.1 L1575.3 2104.2 L1575.8 2106.4 L1576.2 2108.6 L1576.6 2110.8 L1577.1 2112.9 L1577.5 2115.1 L1578.0 2117.3 L1578.5 2119.4 L1579.0 2121.6 L1579.5 2123.7 L1580.0 2125.9 L1580.5 2128.0 L1581.0 2130.2 L1581.5 2132.3 L1582.1 2134.5 L1582.6 2136.6 L1583.2 2138.8 L1583.7 2140.9 L1584.3 2143.1 L1584.9 2145.2 L1585.4 2147.3 L1586.0 2149.4 L1586.6 2151.6 L1587.2 2153.7 L1587.9 2155.8 L1588.5 2157.9"/>
<path d="M1505.8 1287.0 L1506.8 1290.4 L1507.8 1293.9 L1508.6 1297.3 L1509.5 1300.8 L1510.3 1304.2 L1511.0 1307.7 L1511.7 1311.1 L1512.3 1314.5 L1512.9 1318.0 L1513.4 1321.4 L1513.9 1324.8 L1514.3 1328.3 L1514.7 1331.7 L1515.0 1335.1 L1515.3 1338.6 L1515.6 1342.0 L1515.8 1345.4 L1515.9 1348.8 L1516.1 1352.2 L1516.1 1355.6 L1516.2 1359.0 L1516.2 1362.5 L1516.2 1365.9 L1516.1 1369.3 L1516.0 1372.7 L1515.9 1376.1 L1515.7 1379.5 L1515.5 1382.9 L1515.3 1386.3 L1515.0 1389.7 L1514.7 1393.1 L1514.4 1396.5 L1514.1 1399.9 L1513.7 1403.3 L1513.3 1406.7 L1512.9 1410.1 L1512.5 1413.4 L1512.0 1416.8 L1511.5 1420.2 L1511.0 1423.6 L1510.5 1427.0 L1510.0 1430.4 L1509.4 1433.8 L1508.8 1437.2 L1508.3 1440.6 L1507.7 1443.9 L1507.1 1447.3 L1506.4 1450.7 L1505.8 1454.1 L1505.2 1457.5 L1504.5 1460.9 L1503.8 1464.3 L1503.2 1467.7 L1502.5 1471.0 L1501.8 1474.4 L1501.2 1477.8 L1500.5 1481.2 L1499.8 1484.6 L1499.1 1488.0 L1498.4 1491.4 L1497.7 1494.8 L1497.1 1498.2 L1496.4 1501.6 L1495.7 1504.9 L1495.0 1508.3 L1494.4 1511.7 L1493.7 1515.1 L1493.1 1518.5 L1492.5 1521.9 L1491.8 1525.3 L1491.2 1528.7 L1490.6 1532.1 L1490.0 1535.5 L1489.4 1538.9 L1488.9 1542.3 L1488.3 1545.8 L1487.8 1549.2 L1487.3 1552.6 L1486.8 1556.0 L1486.3 1559.4 L1485.8 1562.8 L1485.4 1566.2 L1484.9 1569.6 L1484.5 1573.1 L1484.0 1576.5 L1483.6 1579.9 L1483.2 1583.3 L1482.9 1586.7 L1482.5 1590.2 L1482.1 1593.6 L1481.8 1597.0 L1481.5 1600.4 L1481.1 1603.9 L1480.8 1607.3 L1480.5 1610.7 L1480.3 1614.1 L1480.0 1617.6 L1479.8 1621.0 L1479.5 1624.4 L1479.3 1627.9 L1479.1 1631.3 L1478.9 1634.7 L1478.7 1638.2 L1478.5 1641.6 L1478.4 1645.0 L1478.2 1648.5 L1478.1 1651.9 L1478.0 1655.3 L1477.8 1658.8 L1477.7 1662.2 L1477.7 1665.6 L1477.6 1669.1 L1477.5 1672.5 L1477.5 1675.9 L1477.5 1679.4 L1477.4 1682.8 L1477.4 1686.3 L1477.4 1689.7 L1477.4 1693.1 L1477.5 1696.6 L1477.5 1700.0 L1477.6 1703.4 L1477.6 1706.9 L1477.7 1710.3 L1477.8 1713.8 L1477.9 1717.2 L1478.0 1720.6 L1478.1 1724.1 L1478.3 1727.5 L1478.4 1730.9 L1478.6 1734.4 L1478.7 1737.8 L1478.9 1741.2 L1479.1 1744.7 L1479.3 1748.1 L1479.5 1751.5 L1479.8 1755.0 L1480.0 1758.4 L1480.3 1761.9 L1480.5 1765.3 L1480.8 1768.7 L1481.1 1772.1 L1481.4 1775.6 L1481.7 1779.0 L1482.0 1782.4 L1482.3 1785.9 L1482.7 1789.3 L1483.0 1792.7 L1483.4 1796.2 L1483.8 1799.6 L1484.2 1803.0 L1484.6 1806.4 L1485.0 1809.8 L1485.4 1813.3 L1485.8 1816.7 L1486.3 1820.1 L1486.7 1823.5 L1487.2 1827.0 L1487.7 1830.4 L1488.2 1833.8 L1488.7 1837.2 L1489.2 1840.6 L1489.7 1844.0 L1490.3 1847.4 L1490.8 1850.8 L1491.4 1854.2 L1492.0 1857.6 L1492.6 1861.0 L1493.2 1864.4 L1493.8 1867.8 L1494.5 1871.2 L1495.2 1874.6 L1495.8 1878.0 L1496.6 1881.3 L1497.3 1884.7 L1498.0 1888.1 L1498.8 1891.4 L1499.6 1894.8 L1500.4 1898.1 L1501.2 1901.5 L1502.0 1904.8 L1502.9 1908.1 L1503.8 1911.5 L1504.7 1914.8 L1505.7 1918.1 L1506.7 1921.4 L1507.8 1924.6 L1508.9 1927.9 L1510.0 1931.1 L1511.2 1934.3 L1512.5 1937.5 L1513.7 1940.7 L1515.0 1943.9 L1516.4 1947.1 L1517.7 1950.2 L1519.0 1953.4 L1520.3 1956.6 L1521.6 1959.7 L1522.9 1962.9 L1524.2 1966.1 L1525.3 1969.3 L1526.5 1972.5 L1527.5 1975.7 L1528.5 1979.0 L1529.5 1982.3 L1530.3 1985.5 L1531.2 1988.9 L1532.0 1992.2 L1532.8 1995.5 L1533.7 1998.8 L1534.5 2002.1 L1535.4 2005.4 L1536.2 2008.7 L1537.1 2012.1 L1537.9 2015.4 L1538.8 2018.7 L1539.7 2022.0 L1540.6 2025.3 L1541.5 2028.6 L1542.4 2032.0 L1543.3 2035.3 L1544.2 2038.6 L1545.1 2041.9 L1546.1 2045.2 L1547.0 2048.5 L1548.0 2051.8 L1549.0 2055.1 L1549.9 2058.4 L1550.9 2061.7 L1551.9 2065.0 L1553.0 2068.3 L1554.0 2071.6 L1555.0 2074.9 L1556.1 2078.1 L1557.2 2081.4 L1558.3 2084.7 L1559.4 2087.9 L1560.5 2091.2 L1561.7 2094.4 L1562.8 2097.7 L1564.0 2100.9 L1565.2 2104.2 L1566.4 2107.4 L1567.6 2110.6 L1568.9 2113.8 L1570.2 2117.0 L1571.5 2120.2 L1572.8 2123.4 L1574.1 2126.6 L1575.5 2129.7 L1576.8 2132.9 L1578.2 2136.0 L1579.6 2139.2 L1581.1 2142.3 L1582.6 2145.4 L1584.1 2148.5 L1585.6 2151.6 L1587.1 2154.7 L1588.7 2157.8"/>
</g>
<g id="labels" font-size="48" fill="#262626" stroke="#262626" stroke-width="0.45" style="font-kerning:none">
<text transform="translate(1209.15 1021.86) scale(1 1.08)">0</text>
<text transform="translate(1255.25 1023.76) scale(1 1.08)">0</text>
<text transform="translate(1300.85 1027.46) scale(1 1.08)">0</text>
<text transform="translate(1353.76 1032.59) scale(1 1.08)">7</text>
<text transform="translate(1403.79 1041.10) scale(1 1.08)">2</text>
<path vector-effect="non-scaling-stroke" d="M763 0H583V-1147Q518 -1085 412.5 -1023Q307 -961 223 -930V-1104Q374 -1175 487 -1276Q600 -1377 647 -1472H763Z" transform="translate(1448.82 1053.60) scale(0.02344 0.02531)"/>
<text transform="translate(1498.85 1071.12) scale(1 1.08)">3</text>
<text transform="translate(1551.38 1096.13) scale(1 1.08)">3</text>
<text transform="translate(1598.91 1121.15) scale(1 1.08)">2</text>
<text transform="translate(1641.44 1151.17) scale(1 1.08)">3</text>
<text transform="translate(1671.46 1178.68) scale(1 1.08)">3</text>
<text transform="translate(1701.47 1203.70) scale(1 1.08)">2</text>
<text transform="translate(1736.50 1238.72) scale(1 1.08)">3</text>
<text transform="translate(1766.51 1263.73) scale(1 1.08)">2</text>
<text transform="translate(1796.53 1301.26) scale(1 1.08)">3</text>
<text transform="translate(1819.05 1333.78) scale(1 1.08)">2</text>
<text transform="translate(1844.06 1368.80) scale(1 1.08)">3</text>
<text transform="translate(1861.57 1398.82) scale(1 1.08)">3</text>
<text transform="translate(1881.59 1443.85) scale(1 1.08)">3</text>
<text transform="translate(1901.60 1476.37) scale(1 1.08)">2</text>
<path vector-effect="non-scaling-stroke" d="M763 0H583V-1147Q518 -1085 412.5 -1023Q307 -961 223 -930V-1104Q374 -1175 487 -1276Q600 -1377 647 -1472H763Z" transform="translate(1911.60 1518.89) scale(0.02344 0.02531)"/>
<text transform="translate(1931.62 1561.42) scale(1 1.08)">2</text>
<text transform="translate(1941.62 1611.45) scale(1 1.08)">3</text>
<text transform="translate(1953.13 1653.97) scale(1 1.08)">2</text>
<path vector-effect="non-scaling-stroke" d="M763 0H583V-1147Q518 -1085 412.5 -1023Q307 -961 223 -930V-1104Q374 -1175 487 -1276Q600 -1377 647 -1472H763Z" transform="translate(1956.63 1699.00) scale(0.02344 0.02531)"/>
<text transform="translate(1959.13 1744.03) scale(1 1.08)">2</text>
<text transform="translate(1959.38 1791.29) scale(1 1.08)">3</text>
<text transform="translate(1953.38 1841.32) scale(1 1.08)">2</text>
<text transform="translate(1940.87 1893.85) scale(1 1.08)">4</text>
<text transform="translate(1920.86 1948.89) scale(1 1.08)">4</text>
<text transform="translate(1906.85 1996.41) scale(1 1.08)">3</text>
<text transform="translate(1888.32 2040.23) scale(1 1.08)">3</text>
<text transform="translate(1868.32 2083.56) scale(1 1.08)">2</text>
<path vector-effect="non-scaling-stroke" d="M763 0H583V-1147Q518 -1085 412.5 -1023Q307 -961 223 -930V-1104Q374 -1175 487 -1276Q600 -1377 647 -1472H763Z" transform="translate(1846.65 2120.23) scale(0.02344 0.02531)"/>
<path vector-effect="non-scaling-stroke" d="M763 0H583V-1147Q518 -1085 412.5 -1023Q307 -961 223 -930V-1104Q374 -1175 487 -1276Q600 -1377 647 -1472H763Z" transform="translate(1816.65 2156.89) scale(0.02344 0.02531)"/>
<text transform="translate(1829.99 2276.89) scale(1 1.08)">5</text>
<text transform="translate(1861.65 2315.23) scale(1 1.08)">0</text>
<text transform="translate(1888.32 2348.56) scale(1 1.08)">2</text>
<text transform="translate(1909.99 2381.89) scale(1 1.08)">3</text>
<text transform="translate(1928.32 2428.56) scale(1 1.08)">2</text>
<text transform="translate(1939.99 2468.56) scale(1 1.08)">4</text>
<text transform="translate(1952.00 2518.93) scale(1 1.08)">3</text>
<text transform="translate(1954.50 2568.59) scale(1 1.08)">4</text>
<text transform="translate(1957.00 2613.62) scale(1 1.08)">3</text>
<text transform="translate(1954.50 2656.14) scale(1 1.08)">2</text>
<text transform="translate(1951.00 2703.67) scale(1 1.08)">3</text>
<text transform="translate(1941.99 2749.70) scale(1 1.08)">4</text>
<text transform="translate(1931.99 2786.22) scale(1 1.08)">3</text>
<text transform="translate(1916.98 2822.75) scale(1 1.08)">3</text>
<text transform="translate(1897.97 2859.77) scale(1 1.08)">3</text>
<text transform="translate(1879.46 2901.29) scale(1 1.08)">3</text>
<text transform="translate(1860.94 2945.32) scale(1 1.08)">2</text>
<text transform="translate(1835.43 2988.85) scale(1 1.08)">2</text>
<path vector-effect="non-scaling-stroke" d="M763 0H583V-1147Q518 -1085 412.5 -1023Q307 -961 223 -930V-1104Q374 -1175 487 -1276Q600 -1377 647 -1472H763Z" transform="translate(1808.41 3033.88) scale(0.02344 0.02531)"/>
<text transform="translate(1778.39 3068.90) scale(1 1.08)">2</text>
<text transform="translate(1738.37 3106.42) scale(1 1.08)">3</text>
<text transform="translate(1701.85 3138.94) scale(1 1.08)">3</text>
<text transform="translate(1664.32 3171.46) scale(1 1.08)">3</text>
<text transform="translate(1624.30 3201.48) scale(1 1.08)">2</text>
<text transform="translate(1577.77 3231.50) scale(1 1.08)">2</text>
<text transform="translate(1535.24 3256.51) scale(1 1.08)">2</text>
<text transform="translate(1488.21 3279.03) scale(1 1.08)">2</text>
<path vector-effect="non-scaling-stroke" d="M763 0H583V-1147Q518 -1085 412.5 -1023Q307 -961 223 -930V-1104Q374 -1175 487 -1276Q600 -1377 647 -1472H763Z" transform="translate(1436.68 3303.04) scale(0.02344 0.02531)"/>
<text transform="translate(1383.58 3319.01) scale(1 1.08)">3</text>
<text transform="translate(1317.04 3337.03) scale(1 1.08)">8</text>
<text transform="translate(1259.51 3345.53) scale(1 1.08)">0</text>
<text transform="translate(1200.97 3348.53) scale(1 1.08)">0</text>
<text transform="translate(1149.44 3345.03) scale(1 1.08)">0</text>
<text transform="translate(1094.40 3341.03) scale(1 1.08)">0</text>
<text transform="translate(1039.37 3334.02) scale(1 1.08)">0</text>
<text transform="translate(988.34 3319.01) scale(1 1.08)">6</text>
<text transform="translate(940.81 3309.01) scale(1 1.08)">5</text>
<text transform="translate(886.78 3289.00) scale(1 1.08)">3</text>
<text transform="translate(835.74 3263.98) scale(1 1.08)">2</text>
<text transform="translate(775.71 3233.96) scale(1 1.08)">2</text>
<text transform="translate(726.68 3191.44) scale(1 1.08)">3</text>
<text transform="translate(686.65 3158.92) scale(1 1.08)">3</text>
<text transform="translate(649.33 3113.99) scale(1 1.08)">2</text>
<text transform="translate(611.80 3070.46) scale(1 1.08)">3</text>
<text transform="translate(576.78 3021.43) scale(1 1.08)">2</text>
<text transform="translate(544.26 2958.89) scale(1 1.08)">2</text>
<text transform="translate(515.74 2905.36) scale(1 1.08)">2</text>
<text transform="translate(488.23 2848.82) scale(1 1.08)">2</text>
<text transform="translate(468.21 2794.79) scale(1 1.08)">3</text>
<text transform="translate(451.70 2743.76) scale(1 1.08)">2</text>
<text transform="translate(442.70 2691.23) scale(1 1.08)">2</text>
<path vector-effect="non-scaling-stroke" d="M763 0H583V-1147Q518 -1085 412.5 -1023Q307 -961 223 -930V-1104Q374 -1175 487 -1276Q600 -1377 647 -1472H763Z" transform="translate(430.69 2638.69) scale(0.02344 0.02531)"/>
<text transform="translate(421.69 2591.17) scale(1 1.08)">2</text>
<text transform="translate(420.69 2540.13) scale(1 1.08)">3</text>
<path vector-effect="non-scaling-stroke" d="M763 0H583V-1147Q518 -1085 412.5 -1023Q307 -961 223 -930V-1104Q374 -1175 487 -1276Q600 -1377 647 -1472H763Z" transform="translate(406.68 2486.10) scale(0.02344 0.02531)"/>
<path vector-effect="non-scaling-stroke" d="M763 0H583V-1147Q518 -1085 412.5 -1023Q307 -961 223 -930V-1104Q374 -1175 487 -1276Q600 -1377 647 -1472H763Z" transform="translate(405.68 2444.01) scale(0.02344 0.02531)"/>
<path vector-effect="non-scaling-stroke" d="M763 0H583V-1147Q518 -1085 412.5 -1023Q307 -961 223 -930V-1104Q374 -1175 487 -1276Q600 -1377 647 -1472H763Z" transform="translate(404.18 2401.48) scale(0.02344 0.02531)"/>
<path vector-effect="non-scaling-stroke" d="M763 0H583V-1147Q518 -1085 412.5 -1023Q307 -961 223 -930V-1104Q374 -1175 487 -1276Q600 -1377 647 -1472H763Z" transform="translate(404.18 2361.45) scale(0.02344 0.02531)"/>
<text transform="translate(404.18 2321.43) scale(1 1.08)">0</text>
<path vector-effect="non-scaling-stroke" d="M763 0H583V-1147Q518 -1085 412.5 -1023Q307 -961 223 -930V-1104Q374 -1175 487 -1276Q600 -1377 647 -1472H763Z" transform="translate(405.68 2278.90) scale(0.02344 0.02531)"/>
<path vector-effect="non-scaling-stroke" d="M763 0H583V-1147Q518 -1085 412.5 -1023Q307 -961 223 -930V-1104Q374 -1175 487 -1276Q600 -1377 647 -1472H763Z" transform="translate(405.68 2238.88) scale(0.02344 0.02531)"/>
<path vector-effect="non-scaling-stroke" d="M763 0H583V-1147Q518 -1085 412.5 -1023Q307 -961 223 -930V-1104Q374 -1175 487 -1276Q600 -1377 647 -1472H763Z" transform="translate(412.68 2203.86) scale(0.02344 0.02531)"/>
<text transform="translate(412.68 2161.33) scale(1 1.08)">0</text>
<path vector-effect="non-scaling-stroke" d="M763 0H583V-1147Q518 -1085 412.5 -1023Q307 -961 223 -930V-1104Q374 -1175 487 -1276Q600 -1377 647 -1472H763Z" transform="translate(414.18 2118.81) scale(0.02344 0.02531)"/>
<path vector-effect="non-scaling-stroke" d="M763 0H583V-1147Q518 -1085 412.5 -1023Q307 -961 223 -930V-1104Q374 -1175 487 -1276Q600 -1377 647 -1472H763Z" transform="translate(416.68 2078.78) scale(0.02344 0.02531)"/>
<text transform="translate(416.68 2038.76) scale(1 1.08)">0</text>
<path vector-effect="non-scaling-stroke" d="M763 0H583V-1147Q518 -1085 412.5 -1023Q307 -961 223 -930V-1104Q374 -1175 487 -1276Q600 -1377 647 -1472H763Z" transform="translate(419.18 1996.23) scale(0.02344 0.02531)"/>
<path vector-effect="non-scaling-stroke" d="M763 0H583V-1147Q518 -1085 412.5 -1023Q307 -961 223 -930V-1104Q374 -1175 487 -1276Q600 -1377 647 -1472H763Z" transform="translate(426.69 1956.21) scale(0.02344 0.02531)"/>
<text transform="translate(429.19 1914.68) scale(1 1.08)">0</text>
<path vector-effect="non-scaling-stroke" d="M763 0H583V-1147Q518 -1085 412.5 -1023Q307 -961 223 -930V-1104Q374 -1175 487 -1276Q600 -1377 647 -1472H763Z" transform="translate(431.69 1878.66) scale(0.02344 0.02531)"/>
<text transform="translate(436.70 1840.13) scale(1 1.08)">0</text>
<path vector-effect="non-scaling-stroke" d="M763 0H583V-1147Q518 -1085 412.5 -1023Q307 -961 223 -930V-1104Q374 -1175 487 -1276Q600 -1377 647 -1472H763Z" transform="translate(444.20 1798.61) scale(0.02344 0.02531)"/>
<text transform="translate(449.20 1768.59) scale(1 1.08)">0</text>
<path vector-effect="non-scaling-stroke" d="M763 0H583V-1147Q518 -1085 412.5 -1023Q307 -961 223 -930V-1104Q374 -1175 487 -1276Q600 -1377 647 -1472H763Z" transform="translate(459.21 1736.07) scale(0.02344 0.02531)"/>
<text transform="translate(469.22 1701.50) scale(1 1.08)">0</text>
<path vector-effect="non-scaling-stroke" d="M763 0H583V-1147Q518 -1085 412.5 -1023Q307 -961 223 -930V-1104Q374 -1175 487 -1276Q600 -1377 647 -1472H763Z" transform="translate(479.22 1671.49) scale(0.02344 0.02531)"/>
<text transform="translate(484.22 1628.96) scale(1 1.08)">0</text>
<path vector-effect="non-scaling-stroke" d="M763 0H583V-1147Q518 -1085 412.5 -1023Q307 -961 223 -930V-1104Q374 -1175 487 -1276Q600 -1377 647 -1472H763Z" transform="translate(497.73 1603.94) scale(0.02344 0.02531)"/>
<path vector-effect="non-scaling-stroke" d="M763 0H583V-1147Q518 -1085 412.5 -1023Q307 -961 223 -930V-1104Q374 -1175 487 -1276Q600 -1377 647 -1472H763Z" transform="translate(506.74 1563.92) scale(0.02344 0.02531)"/>
<path vector-effect="non-scaling-stroke" d="M763 0H583V-1147Q518 -1085 412.5 -1023Q307 -961 223 -930V-1104Q374 -1175 487 -1276Q600 -1377 647 -1472H763Z" transform="translate(515.74 1526.40) scale(0.02344 0.02531)"/>
<path vector-effect="non-scaling-stroke" d="M763 0H583V-1147Q518 -1085 412.5 -1023Q307 -961 223 -930V-1104Q374 -1175 487 -1276Q600 -1377 647 -1472H763Z" transform="translate(526.75 1488.87) scale(0.02344 0.02531)"/>
<path vector-effect="non-scaling-stroke" d="M763 0H583V-1147Q518 -1085 412.5 -1023Q307 -961 223 -930V-1104Q374 -1175 487 -1276Q600 -1377 647 -1472H763Z" transform="translate(539.26 1458.85) scale(0.02344 0.02531)"/>
<path vector-effect="non-scaling-stroke" d="M763 0H583V-1147Q518 -1085 412.5 -1023Q307 -961 223 -930V-1104Q374 -1175 487 -1276Q600 -1377 647 -1472H763Z" transform="translate(551.77 1423.83) scale(0.02344 0.02531)"/>
<path vector-effect="non-scaling-stroke" d="M763 0H583V-1147Q518 -1085 412.5 -1023Q307 -961 223 -930V-1104Q374 -1175 487 -1276Q600 -1377 647 -1472H763Z" transform="translate(566.78 1389.81) scale(0.02344 0.02531)"/>
<text transform="translate(588.29 1352.79) scale(1 1.08)">2</text>
<text transform="translate(606.80 1313.77) scale(1 1.08)">3</text>
<text transform="translate(630.31 1276.24) scale(1 1.08)">3</text>
<text transform="translate(657.83 1238.72) scale(1 1.08)">2</text>
<text transform="translate(694.35 1206.20) scale(1 1.08)">2</text>
<text transform="translate(726.87 1173.68) scale(1 1.08)">3</text>
<text transform="translate(761.90 1143.66) scale(1 1.08)">2</text>
<text transform="translate(796.92 1116.14) scale(1 1.08)">3</text>
<text transform="translate(839.44 1092.63) scale(1 1.08)">3</text>
<text transform="translate(884.47 1068.61) scale(1 1.08)">2</text>
<text transform="translate(927.00 1053.60) scale(1 1.08)">3</text>
<text transform="translate(967.02 1039.60) scale(1 1.08)">2</text>
<text transform="translate(1018.55 1028.59) scale(1 1.08)">5</text>
<text transform="translate(1072.09 1022.59) scale(1 1.08)">8</text>
<text transform="translate(1124.62 1021.08) scale(1 1.08)">0</text>
<text transform="translate(1167.15 1021.08) scale(1 1.08)">0</text>
<text transform="translate(1613.32 2103.56) scale(1 1.08)">4</text>
<path vector-effect="non-scaling-stroke" d="M763 0H583V-1147Q518 -1085 412.5 -1023Q307 -961 223 -930V-1104Q374 -1175 487 -1276Q600 -1377 647 -1472H763Z" transform="translate(1556.64 2175.23) scale(0.02344 0.02531)"/>
<text transform="translate(1583.33 2175.23) scale(1 1.08)">7</text>
<path vector-effect="non-scaling-stroke" d="M763 0H583V-1147Q518 -1085 412.5 -1023Q307 -961 223 -930V-1104Q374 -1175 487 -1276Q600 -1377 647 -1472H763Z" transform="translate(1568.10 2252.76) scale(0.02344 0.02531)"/>
<text transform="translate(1594.80 2252.76) scale(1 1.08)">7</text>
<path vector-effect="non-scaling-stroke" d="M763 0H583V-1147Q518 -1085 412.5 -1023Q307 -961 223 -930V-1104Q374 -1175 487 -1276Q600 -1377 647 -1472H763Z" transform="translate(1581.90 2312.46) scale(0.02344 0.02531)"/>
<text transform="translate(1608.60 2312.46) scale(1 1.08)">0</text>
</g>

<!-- ======== legend ======== -->
<g id="legend" font-size="62" fill="#262626" style="font-kerning:none">
<text x="868" y="1761" letter-spacing="0.68">Комплект камня:</text>
<rect x="870" y="1766.8" width="486" height="2.6" fill="#262626"/>
<text x="867.60" y="1901.30" letter-spacing="0.62">№0 - </text>
<path vector-effect="non-scaling-stroke" d="M763 0H583V-1147Q518 -1085 412.5 -1023Q307 -961 223 -930V-1104Q374 -1175 487 -1276Q600 -1377 647 -1472H763Z" transform="translate(1026.79 1901.30) scale(0.03027 0.03027)"/>
<text x="1061.89" y="1901.30" letter-spacing="0.62">9 шт</text>
<text x="867.60" y="1971.17" letter-spacing="0.62">№</text>
<path vector-effect="non-scaling-stroke" d="M763 0H583V-1147Q518 -1085 412.5 -1023Q307 -961 223 -930V-1104Q374 -1175 487 -1276Q600 -1377 647 -1472H763Z" transform="translate(934.73 1971.17) scale(0.03027 0.03027)"/>
<text x="987.68" y="1971.17" letter-spacing="0.62">- 30 шт</text>
<text x="1187.70" y="1971.17" letter-spacing="0.62">.</text>
<text x="867.60" y="2041.04" letter-spacing="0.62">№2 - 37 шт</text>
<text x="1187.70" y="2041.04" letter-spacing="0.62">.</text>
<text x="867.60" y="2110.91" letter-spacing="0.62">№3 - 37 шт</text>
<text x="1187.70" y="2110.91" letter-spacing="0.62">.</text>
<text x="867.60" y="2180.78" letter-spacing="0.62">№4 - 6 шт</text>
<text x="1152.60" y="2180.78" letter-spacing="0.62">.</text>
<text x="867.60" y="2250.65" letter-spacing="0.62">№5 - 3 шт</text>
<text x="1152.60" y="2250.65" letter-spacing="0.62">.</text>
<text x="867.60" y="2320.52" letter-spacing="0.62">№6 - </text>
<path vector-effect="non-scaling-stroke" d="M763 0H583V-1147Q518 -1085 412.5 -1023Q307 -961 223 -930V-1104Q374 -1175 487 -1276Q600 -1377 647 -1472H763Z" transform="translate(1026.79 2320.52) scale(0.03027 0.03027)"/>
<text x="1079.74" y="2320.52" letter-spacing="0.62">шт</text>
<text x="1152.60" y="2320.52" letter-spacing="0.62">.</text>
<text x="867.60" y="2390.39" letter-spacing="0.62">№7 - </text>
<path vector-effect="non-scaling-stroke" d="M763 0H583V-1147Q518 -1085 412.5 -1023Q307 -961 223 -930V-1104Q374 -1175 487 -1276Q600 -1377 647 -1472H763Z" transform="translate(1026.79 2390.39) scale(0.03027 0.03027)"/>
<text x="1079.74" y="2390.39" letter-spacing="0.62">шт</text>
<text x="1152.60" y="2390.39" letter-spacing="0.62">.</text>
<text x="867.60" y="2460.26" letter-spacing="0.62">№8 - 2 шт</text>
<text x="1152.60" y="2460.26" letter-spacing="0.62">.</text>
<text x="867.60" y="2530.13" letter-spacing="0.62">№</text>
<path vector-effect="non-scaling-stroke" d="M763 0H583V-1147Q518 -1085 412.5 -1023Q307 -961 223 -930V-1104Q374 -1175 487 -1276Q600 -1377 647 -1472H763Z" transform="translate(934.73 2530.13) scale(0.03027 0.03027)"/>
<text x="969.83" y="2530.13" letter-spacing="0.62">0 - </text>
<path vector-effect="non-scaling-stroke" d="M763 0H583V-1147Q518 -1085 412.5 -1023Q307 -961 223 -930V-1104Q374 -1175 487 -1276Q600 -1377 647 -1472H763Z" transform="translate(1061.89 2530.13) scale(0.03027 0.03027)"/>
<text x="1114.84" y="2530.13" letter-spacing="0.62">шт</text>
<text x="1187.70" y="2530.13" letter-spacing="0.62">.</text>
<text x="867.60" y="2600.00" letter-spacing="0.62">№</text>
<path vector-effect="non-scaling-stroke" d="M763 0H583V-1147Q518 -1085 412.5 -1023Q307 -961 223 -930V-1104Q374 -1175 487 -1276Q600 -1377 647 -1472H763Z" transform="translate(934.73 2600.00) scale(0.03027 0.03027)"/>
<text x="969.83" y="2600.00" letter-spacing="0.62">7 - 2 шт</text>
<text x="1187.70" y="2600.00" letter-spacing="0.62">.</text>
<text x="867.60" y="2669.87" letter-spacing="0.62">Всего - </text>
<path vector-effect="non-scaling-stroke" d="M763 0H583V-1147Q518 -1085 412.5 -1023Q307 -961 223 -930V-1104Q374 -1175 487 -1276Q600 -1377 647 -1472H763Z" transform="translate(1091.59 2669.87) scale(0.03027 0.03027)"/>
<text x="1126.69" y="2669.87" letter-spacing="0.62">39 шт</text>
<text x="1287.60" y="2669.87" letter-spacing="0.62">.</text>
<text x="867.60" y="2739.74" letter-spacing="0.62">Вес - 306 кг</text>
<text x="1200.87" y="2739.74" letter-spacing="0.62">.</text>
</g>

<!-- ======== start marker ======== -->
<text x="1861.5" y="2160.3" font-size="58.6" fill="#262626">Начало кладки</text>
<path d="M2271.5 2175.3 L1861.3 2175.3 L1763 2211.5" fill="none" stroke="#262626" stroke-width="3.4"/>
</svg>
<div id="frame"></div>
</div>
</body>
</html>
